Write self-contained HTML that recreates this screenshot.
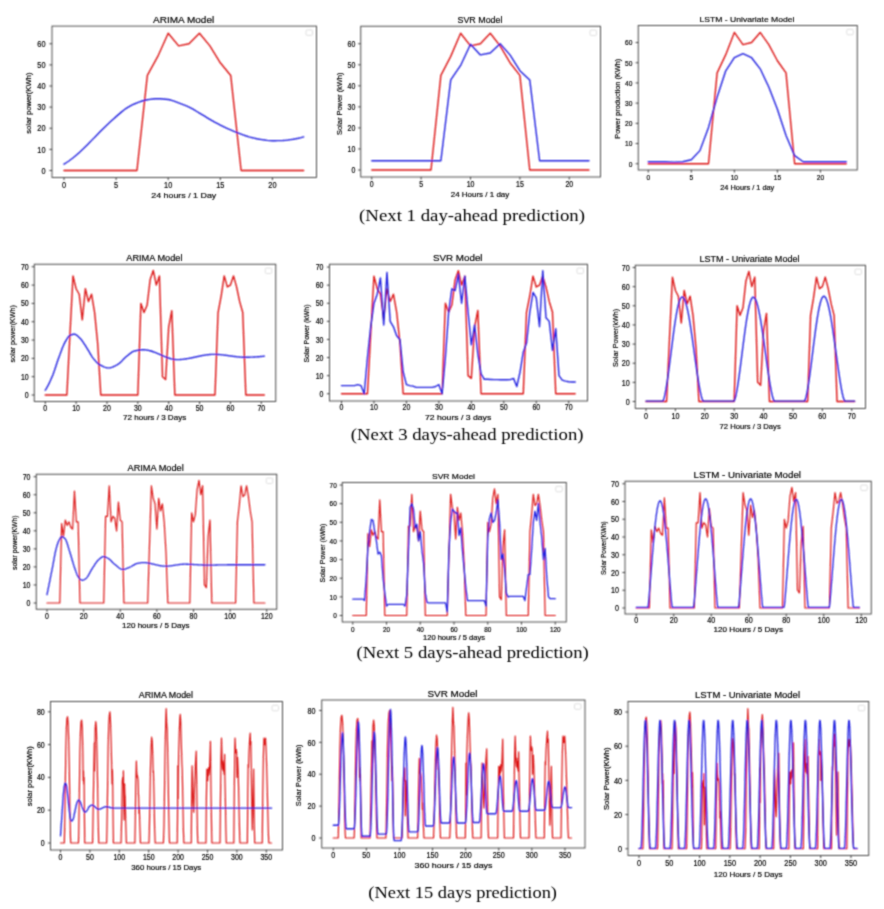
<!DOCTYPE html>
<html><head><meta charset="utf-8"><style>
html,body{margin:0;padding:0;background:#fff;width:884px;height:909px;overflow:hidden}
svg{display:block}
text{font-family:"Liberation Sans",sans-serif;fill:#000000;stroke:#000000;stroke-width:0.18px}
.cap{font-family:"Liberation Serif",serif;fill:#000;stroke:none}
</style></head><body>
<svg width="884" height="909" viewBox="0 0 884 909">
<defs><filter id="b" filterUnits="userSpaceOnUse" x="0" y="0" width="884" height="909"><feConvolveMatrix order="3" kernelMatrix="1 2 1 2 4 2 1 2 1" divisor="16" edgeMode="none"/></filter><filter id="bt" filterUnits="userSpaceOnUse" x="0" y="0" width="884" height="909"><feConvolveMatrix order="3" kernelMatrix="1 3 1 3 12 3 1 3 1" edgeMode="none"/></filter></defs>
<rect width="884" height="909" fill="#fff"/>
<g filter="url(#b)">
<g><polyline points="64,170.5 74.42,170.5 84.84,170.5 95.26,170.5 105.68,170.5 116.1,170.5 126.52,170.5 136.94,170.5 147.36,75.44 157.78,56.43 168.2,33.19 178.62,45.86 189.04,43.75 199.46,33.19 209.88,45.86 220.3,62.76 230.72,75.44 241.14,170.5 251.56,170.5 261.98,170.5 272.4,170.5 282.82,170.5 293.24,170.5 303.66,170.5" fill="none" stroke="#dc1616" stroke-width="1.4" stroke-linejoin="round" stroke-linecap="round"/>
<polyline points="64,164.16 66.61,162.51 69.21,160.71 71.81,158.8 74.42,156.77 77.03,154.58 79.63,152.23 82.23,149.77 84.84,147.26 87.44,144.7 90.05,142.05 92.66,139.37 95.26,136.7 97.87,134.03 100.47,131.35 103.08,128.7 105.68,126.14 108.28,123.66 110.89,121.25 113.5,118.91 116.1,116.63 118.7,114.36 121.31,112.1 123.91,110 126.52,108.18 129.12,106.63 131.73,105.22 134.33,103.98 136.94,102.9 139.55,101.92 142.15,101.02 144.75,100.26 147.36,99.73 149.97,99.34 152.57,99.01 155.18,98.77 157.78,98.68 160.38,98.74 162.99,98.93 165.59,99.2 168.2,99.52 170.81,100.06 173.41,100.91 176.01,101.91 178.62,102.9 181.22,103.86 183.83,104.87 186.44,105.95 189.04,107.12 191.64,108.46 194.25,109.93 196.85,111.49 199.46,113.04 202.06,114.61 204.67,116.22 207.28,117.83 209.88,119.38 212.48,120.87 215.09,122.32 217.69,123.73 220.3,125.08 222.91,126.37 225.51,127.6 228.12,128.79 230.72,129.94 233.32,131.06 235.93,132.15 238.53,133.19 241.14,134.17 243.75,135.1 246.35,136 248.96,136.83 251.56,137.55 254.16,138.17 256.77,138.75 259.38,139.25 261.98,139.66 264.59,140.02 267.19,140.36 269.79,140.61 272.4,140.71 275,140.7 277.61,140.65 280.22,140.59 282.82,140.5 285.43,140.33 288.03,140.03 290.63,139.65 293.24,139.24 295.85,138.77 298.45,138.22 301.06,137.6 303.66,136.91" fill="none" stroke="#2020e0" stroke-width="1.4" stroke-linejoin="round" stroke-linecap="round"/>
<rect x="52" y="26.1" width="264.5" height="151.4" fill="none" stroke="#3c3c3c" stroke-width="0.9"/>
<rect x="306" y="29.9" width="6.5" height="5.5" rx="1.2" fill="none" stroke="#d8d8d8" stroke-width="0.8"/>
<path d="M64 177.5v2.6 M116.1 177.5v2.6 M168.2 177.5v2.6 M220.3 177.5v2.6 M272.4 177.5v2.6 M52 170.5h-2.6 M52 149.38h-2.6 M52 128.25h-2.6 M52 107.12h-2.6 M52 86h-2.6 M52 64.88h-2.6 M52 43.75h-2.6" stroke="#3c3c3c" stroke-width="1"/></g>
<g><polyline points="371.75,170 381.62,170 391.5,170 401.38,170 411.25,170 421.12,170 431,170 440.88,75.32 450.75,56.38 460.62,33.24 470.5,45.86 480.38,43.76 490.25,33.24 500.12,45.86 510,62.7 519.88,75.32 529.75,170 539.62,170 549.5,170 559.38,170 569.25,170 579.12,170 589,170" fill="none" stroke="#dc1616" stroke-width="1.4" stroke-linejoin="round" stroke-linecap="round"/>
<polyline points="371.75,160.74 381.62,160.74 391.5,160.74 401.38,160.74 411.25,160.74 421.12,160.74 431,160.74 440.88,160.74 450.75,79.95 460.62,65.43 470.5,44.18 480.38,54.91 490.25,53.02 500.12,43.76 510,54.91 519.88,70.69 529.75,79.95 539.62,160.74 549.5,160.74 559.38,160.74 569.25,160.74 579.12,160.74 589,160.74" fill="none" stroke="#2020e0" stroke-width="1.4" stroke-linejoin="round" stroke-linecap="round"/>
<rect x="360.75" y="26.25" width="239.75" height="150.75" fill="none" stroke="#3c3c3c" stroke-width="0.9"/>
<rect x="590" y="30.05" width="6.5" height="5.5" rx="1.2" fill="none" stroke="#d8d8d8" stroke-width="0.8"/>
<path d="M371.75 177v2.6 M421.12 177v2.6 M470.5 177v2.6 M519.88 177v2.6 M569.25 177v2.6 M360.75 170h-2.6 M360.75 148.96h-2.6 M360.75 127.92h-2.6 M360.75 106.88h-2.6 M360.75 85.84h-2.6 M360.75 64.8h-2.6 M360.75 43.76h-2.6" stroke="#3c3c3c" stroke-width="1"/></g>
<g><polyline points="648.25,163.75 656.86,163.75 665.47,163.75 674.08,163.75 682.69,163.75 691.3,163.75 699.91,163.75 708.52,163.75 717.13,72.85 725.74,54.67 734.35,32.45 742.96,44.57 751.57,42.55 760.18,32.45 768.79,44.57 777.4,60.73 786.01,72.85 794.62,163.75 803.23,163.75 811.84,163.75 820.45,163.75 829.06,163.75 837.67,163.75 846.28,163.75" fill="none" stroke="#dc1616" stroke-width="1.4" stroke-linejoin="round" stroke-linecap="round"/>
<polyline points="648.25,161.73 656.86,161.73 665.47,161.73 674.08,162.13 682.69,161.73 691.3,159.71 699.91,150.62 708.52,127.39 717.13,97.09 725.74,70.83 734.35,57.7 742.96,53.66 751.57,57.7 760.18,68.81 768.79,86.99 777.4,109.21 786.01,135.47 794.62,155.67 803.23,161.73 811.84,161.73 820.45,161.73 829.06,161.73 837.67,161.73 846.28,161.73" fill="none" stroke="#2020e0" stroke-width="1.4" stroke-linejoin="round" stroke-linecap="round"/>
<rect x="638.25" y="25.5" width="219" height="144.5" fill="none" stroke="#3c3c3c" stroke-width="0.9"/>
<rect x="846.75" y="29.3" width="6.5" height="5.5" rx="1.2" fill="none" stroke="#d8d8d8" stroke-width="0.8"/>
<path d="M648.25 170v2.6 M691.3 170v2.6 M734.35 170v2.6 M777.4 170v2.6 M820.45 170v2.6 M638.25 163.75h-2.6 M638.25 143.55h-2.6 M638.25 123.35h-2.6 M638.25 103.15h-2.6 M638.25 82.95h-2.6 M638.25 62.75h-2.6 M638.25 42.55h-2.6" stroke="#3c3c3c" stroke-width="1"/></g>
<g><polyline points="45.25,395 48.34,395 51.42,395 54.51,395 57.59,395 60.68,395 63.77,395 66.85,395 69.94,334.54 73.02,275.92 76.11,288.74 79.2,294.24 82.28,319.89 85.37,288.74 88.45,301.57 91.54,294.24 94.63,312.56 97.71,343.7 100.8,395 103.88,395 106.97,395 110.06,395 113.14,395 116.23,395 119.31,395 122.4,395 125.49,395 128.57,395 131.66,395 134.74,395 137.83,395 140.92,303.4 144,312.56 147.09,305.23 150.17,279.58 153.26,270.42 156.35,285.08 159.43,275.92 162.52,376.68 165.6,379.43 168.69,327.22 171.78,310.73 174.86,395 177.95,395 181.03,395 184.12,395 187.21,395 190.29,395 193.38,395 196.46,395 199.55,395 202.64,395 205.72,395 208.81,395 211.89,395 214.98,395 218.07,312.56 221.15,296.07 224.24,275.92 227.32,286.91 230.41,285.08 233.5,275.92 236.58,286.91 239.67,301.57 242.75,312.56 245.84,395 248.93,395 252.01,395 255.1,395 258.18,395 261.27,395 264.36,395" fill="none" stroke="#dc1616" stroke-width="1.4" stroke-linejoin="round" stroke-linecap="round"/>
<polyline points="45.25,390.24 46.02,389.03 46.79,387.72 47.56,386.34 48.34,384.87 49.11,383.33 49.88,381.72 50.65,380.04 51.42,378.31 52.19,376.53 52.97,374.66 53.74,372.59 54.51,370.38 55.28,368.06 56.05,365.7 56.82,363.34 57.59,361.03 58.37,358.83 59.14,356.74 59.91,354.63 60.68,352.5 61.45,350.4 62.22,348.37 62.99,346.45 63.77,344.68 64.54,343.1 65.31,341.71 66.08,340.35 66.85,339.04 67.62,337.84 68.39,336.8 69.17,335.99 69.94,335.46 70.71,335.1 71.48,334.78 72.25,334.51 73.02,334.31 73.8,334.2 74.57,334.2 75.34,334.4 76.11,334.8 76.88,335.34 77.65,335.99 78.42,336.71 79.2,337.44 79.97,338.17 80.74,338.98 81.51,339.92 82.28,340.96 83.05,342.08 83.82,343.26 84.6,344.49 85.37,345.73 86.14,346.97 86.91,348.18 87.68,349.37 88.45,350.64 89.23,351.96 90,353.3 90.77,354.63 91.54,355.9 92.31,357.09 93.08,358.16 93.85,359.1 94.63,360.01 95.4,360.89 96.17,361.72 96.94,362.5 97.71,363.22 98.48,363.86 99.25,364.41 100.03,364.85 100.8,365.27 101.57,365.67 102.34,366.06 103.11,366.44 103.88,366.78 104.66,367.09 105.43,367.36 106.2,367.58 106.97,367.75 107.74,367.85 108.51,367.89 109.28,367.85 110.06,367.74 110.83,367.57 111.6,367.34 112.37,367.06 113.14,366.75 113.91,366.4 114.69,366.03 115.46,365.64 116.23,365.25 117,364.85 117.77,364.42 118.54,363.91 119.31,363.3 120.09,362.63 120.86,361.91 121.63,361.15 122.4,360.37 123.17,359.57 123.94,358.79 124.71,358.02 125.49,357.28 126.26,356.6 127.03,355.98 127.8,355.38 128.57,354.75 129.34,354.12 130.12,353.5 130.89,352.91 131.66,352.36 132.43,351.88 133.2,351.47 133.97,351.16 134.74,350.96 135.52,350.78 136.29,350.61 137.06,350.45 137.83,350.3 138.6,350.17 139.37,350.05 140.14,349.95 140.92,349.87 141.69,349.81 142.46,349.77 143.23,349.75 144,349.76 144.77,349.8 145.55,349.86 146.32,349.96 147.09,350.08 147.86,350.22 148.63,350.39 149.4,350.57 150.17,350.78 150.95,351 151.72,351.25 152.49,351.5 153.26,351.77 154.03,352.06 154.8,352.35 155.57,352.66 156.35,352.97 157.12,353.3 157.89,353.62 158.66,353.96 159.43,354.29 160.2,354.63 160.97,354.97 161.75,355.3 162.52,355.64 163.29,355.96 164.06,356.29 164.83,356.61 165.6,356.92 166.38,357.22 167.15,357.51 167.92,357.78 168.69,358.05 169.46,358.29 170.23,358.53 171,358.74 171.78,358.93 172.55,359.11 173.32,359.26 174.09,359.39 174.86,359.49 175.63,359.57 176.41,359.62 177.18,359.64 177.95,359.64 178.72,359.62 179.49,359.59 180.26,359.54 181.03,359.49 181.81,359.42 182.58,359.34 183.35,359.26 184.12,359.16 184.89,359.05 185.66,358.94 186.43,358.81 187.21,358.68 187.98,358.55 188.75,358.4 189.52,358.25 190.29,358.1 191.06,357.95 191.83,357.79 192.61,357.62 193.38,357.46 194.15,357.29 194.92,357.12 195.69,356.95 196.46,356.78 197.24,356.62 198.01,356.45 198.78,356.28 199.55,356.12 200.32,355.96 201.09,355.81 201.86,355.66 202.64,355.51 203.41,355.37 204.18,355.24 204.95,355.11 205.72,354.99 206.49,354.88 207.26,354.77 208.04,354.68 208.81,354.6 209.58,354.52 210.35,354.46 211.12,354.41 211.89,354.37 212.67,354.34 213.44,354.33 214.21,354.33 214.98,354.34 215.75,354.36 216.52,354.4 217.29,354.43 218.07,354.48 218.84,354.54 219.61,354.6 220.38,354.67 221.15,354.75 221.92,354.83 222.69,354.92 223.47,355.01 224.24,355.1 225.01,355.2 225.78,355.3 226.55,355.41 227.32,355.51 228.1,355.62 228.87,355.73 229.64,355.84 230.41,355.95 231.18,356.06 231.95,356.16 232.72,356.27 233.5,356.37 234.27,356.47 235.04,356.56 235.81,356.66 236.58,356.74 237.35,356.83 238.12,356.9 238.9,356.98 239.67,357.04 240.44,357.1 241.21,357.15 241.98,357.19 242.75,357.22 243.53,357.24 244.3,357.26 245.07,357.26 245.84,357.26 246.61,357.25 247.38,357.24 248.15,357.23 248.93,357.21 249.7,357.2 250.47,357.17 251.24,357.15 252.01,357.12 252.78,357.08 253.55,357.05 254.33,357.01 255.1,356.96 255.87,356.92 256.64,356.86 257.41,356.81 258.18,356.75 258.96,356.69 259.73,356.63 260.5,356.56 261.27,356.49 262.04,356.41 262.81,356.33 263.58,356.25 264.36,356.16" fill="none" stroke="#2020e0" stroke-width="1.4" stroke-linejoin="round" stroke-linecap="round"/>
<rect x="34.25" y="264.25" width="241.5" height="137.25" fill="none" stroke="#3c3c3c" stroke-width="0.9"/>
<rect x="265.25" y="268.05" width="6.5" height="5.5" rx="1.2" fill="none" stroke="#d8d8d8" stroke-width="0.8"/>
<path d="M45.25 401.5v2.6 M76.11 401.5v2.6 M106.97 401.5v2.6 M137.83 401.5v2.6 M168.69 401.5v2.6 M199.55 401.5v2.6 M230.41 401.5v2.6 M261.27 401.5v2.6 M34.25 395h-2.6 M34.25 376.68h-2.6 M34.25 358.36h-2.6 M34.25 340.04h-2.6 M34.25 321.72h-2.6 M34.25 303.4h-2.6 M34.25 285.08h-2.6 M34.25 266.76h-2.6" stroke="#3c3c3c" stroke-width="1"/></g>
<g><polyline points="341.5,393.75 344.75,393.75 347.99,393.75 351.24,393.75 354.48,393.75 357.73,393.75 360.98,393.75 364.22,393.75 367.47,393.75 370.71,334.02 373.96,276.1 377.21,288.77 380.45,294.2 383.7,319.54 386.94,288.77 390.19,301.44 393.44,294.2 396.68,312.3 399.93,343.07 403.17,393.75 406.42,393.75 409.67,393.75 412.91,393.75 416.16,393.75 419.4,393.75 422.65,393.75 425.9,393.75 429.14,393.75 432.39,393.75 435.63,393.75 438.88,393.75 442.13,393.75 445.37,303.25 448.62,312.3 451.86,305.06 455.11,279.72 458.36,270.67 461.6,285.15 464.85,276.1 468.09,375.65 471.34,378.37 474.59,326.78 477.83,310.49 481.08,393.75 484.32,393.75 487.57,393.75 490.82,393.75 494.06,393.75 497.31,393.75 500.55,393.75 503.8,393.75 507.05,393.75 510.29,393.75 513.54,393.75 516.78,393.75 520.03,393.75 523.28,393.75 526.52,312.3 529.77,296.01 533.01,276.1 536.26,286.96 539.51,285.15 542.75,276.1 546,286.96 549.24,301.44 552.49,312.3 555.74,393.75 558.98,393.75 562.23,393.75 565.47,393.75 568.72,393.75 571.97,393.75 575.21,393.75" fill="none" stroke="#dc1616" stroke-width="1.4" stroke-linejoin="round" stroke-linecap="round"/>
<polyline points="341.5,385.61 344.75,385.61 347.99,385.61 351.24,385.61 354.48,385.61 357.73,384.7 360.98,385.61 364.22,393.75 367.47,357.55 370.71,326.78 373.96,303.25 377.21,294.2 380.45,277.91 383.7,324.97 386.94,272.48 390.19,321.35 393.44,326.78 396.68,335.83 399.93,339.45 403.17,372.03 406.42,384.7 409.67,385.61 412.91,386.15 416.16,387.42 419.4,387.42 422.65,387.42 425.9,387.42 429.14,387.42 432.39,387.42 435.63,386.51 438.88,384.7 442.13,393.75 445.37,357.55 448.62,312.3 451.86,288.77 455.11,290.58 458.36,274.29 461.6,303.25 464.85,276.1 468.09,312.3 471.34,344.88 474.59,324.97 477.83,353.93 481.08,373.84 484.32,379.27 487.57,379.27 490.82,379.45 494.06,379.63 497.31,379.63 500.55,379.81 503.8,379.81 507.05,379.81 510.29,379.63 513.54,378.37 516.78,386.51 520.03,372.03 523.28,352.12 526.52,343.07 529.77,312.3 533.01,292.39 536.26,297.82 539.51,326.78 542.75,270.67 546,317.73 549.24,321.35 552.49,350.31 555.74,328.59 558.98,375.65 562.23,380.18 565.47,381.08 568.72,381.8 571.97,381.99 575.21,381.99" fill="none" stroke="#2020e0" stroke-width="1.4" stroke-linejoin="round" stroke-linecap="round"/>
<rect x="329.5" y="264.25" width="258" height="136.75" fill="none" stroke="#3c3c3c" stroke-width="0.9"/>
<rect x="577" y="268.05" width="6.5" height="5.5" rx="1.2" fill="none" stroke="#d8d8d8" stroke-width="0.8"/>
<path d="M341.5 401v2.6 M373.96 401v2.6 M406.42 401v2.6 M438.88 401v2.6 M471.34 401v2.6 M503.8 401v2.6 M536.26 401v2.6 M568.72 401v2.6 M329.5 393.75h-2.6 M329.5 375.65h-2.6 M329.5 357.55h-2.6 M329.5 339.45h-2.6 M329.5 321.35h-2.6 M329.5 303.25h-2.6 M329.5 285.15h-2.6 M329.5 267.05h-2.6" stroke="#3c3c3c" stroke-width="1"/></g>
<g><polyline points="646,401.5 648.94,401.5 651.88,401.5 654.82,401.5 657.76,401.5 660.7,401.5 663.63,401.5 666.57,401.5 669.51,338.34 672.45,277.09 675.39,290.49 678.33,296.23 681.27,323.03 684.21,290.49 687.15,303.89 690.09,296.23 693.02,315.37 695.96,347.91 698.9,401.5 701.84,401.5 704.78,401.5 707.72,401.5 710.66,401.5 713.6,401.5 716.54,401.5 719.48,401.5 722.41,401.5 725.35,401.5 728.29,401.5 731.23,401.5 734.17,401.5 737.11,305.8 740.05,315.37 742.99,307.71 745.93,280.92 748.87,271.35 751.8,286.66 754.74,277.09 757.68,382.36 760.62,385.23 763.56,330.68 766.5,313.46 769.44,401.5 772.38,401.5 775.32,401.5 778.25,401.5 781.19,401.5 784.13,401.5 787.07,401.5 790.01,401.5 792.95,401.5 795.89,401.5 798.83,401.5 801.77,401.5 804.71,401.5 807.64,401.5 810.58,315.37 813.52,298.14 816.46,277.09 819.4,288.57 822.34,286.66 825.28,277.09 828.22,288.57 831.16,303.89 834.1,315.37 837.03,401.5 839.97,401.5 842.91,401.5 845.85,401.5 848.79,401.5 851.73,401.5 854.67,401.5" fill="none" stroke="#dc1616" stroke-width="1.4" stroke-linejoin="round" stroke-linecap="round"/>
<polyline points="646,401.12 646.73,401.12 647.47,401.12 648.2,401.12 648.94,401.12 649.67,401.12 650.41,401.12 651.14,401.12 651.88,401.12 652.61,401.12 653.35,401.12 654.08,401.12 654.82,401.12 655.55,401.12 656.29,401.12 657.02,401.12 657.76,401.12 658.49,401.12 659.23,401.12 659.96,401.12 660.7,401.12 661.43,401.12 662.16,401.12 662.9,401.03 663.63,399.59 664.37,397.11 665.1,393.86 665.84,389.98 666.57,385.58 667.31,380.76 668.04,375.58 668.78,370.14 669.51,364.49 670.25,358.72 670.98,352.89 671.72,347.07 672.45,341.32 673.19,335.7 673.92,330.28 674.66,325.11 675.39,320.25 676.12,315.74 676.86,311.64 677.59,307.97 678.33,304.79 679.06,302.12 679.8,299.99 680.53,298.42 681.27,297.42 682,297.01 682.74,297.15 683.47,297.8 684.21,298.93 684.94,300.54 685.68,302.61 686.41,305.14 687.15,308.09 687.88,311.44 688.62,315.17 689.35,319.24 690.09,323.62 690.82,328.27 691.55,333.14 692.29,338.21 693.02,343.41 693.76,348.71 694.49,354.06 695.23,359.4 695.96,364.68 696.7,369.86 697.43,374.87 698.17,379.66 698.9,384.18 699.64,388.35 700.37,392.12 701.11,395.41 701.84,398.12 702.58,400.13 703.31,401.12 704.05,401.12 704.78,401.12 705.51,401.12 706.25,401.12 706.98,401.12 707.72,401.12 708.45,401.12 709.19,401.12 709.92,401.12 710.66,401.12 711.39,401.12 712.13,401.12 712.86,401.12 713.6,401.12 714.33,401.12 715.07,401.12 715.8,401.12 716.54,401.12 717.27,401.12 718.01,401.12 718.74,401.12 719.48,401.12 720.21,401.12 720.94,401.12 721.68,401.12 722.41,401.12 723.15,401.12 723.88,401.12 724.62,401.12 725.35,401.12 726.09,401.12 726.82,401.12 727.56,401.12 728.29,401.12 729.03,401.12 729.76,401.12 730.5,401.12 731.23,401.12 731.97,401.12 732.7,401.12 733.44,401.12 734.17,400.85 734.9,399.17 735.64,396.53 736.37,393.14 737.11,389.16 737.84,384.68 738.58,379.79 739.31,374.56 740.05,369.08 740.78,363.42 741.52,357.64 742.25,351.81 742.99,346.01 743.72,340.29 744.46,334.72 745.19,329.36 745.93,324.25 746.66,319.47 747.4,315.05 748.13,311.03 748.87,307.47 749.6,304.39 750.33,301.83 751.07,299.82 751.8,298.36 752.54,297.48 753.27,297.19 754.01,297.43 754.74,298.17 755.48,299.4 756.21,301.1 756.95,303.26 757.68,305.87 758.42,308.9 759.15,312.32 759.89,316.12 760.62,320.24 761.36,324.67 762.09,329.36 762.83,334.26 763.56,339.35 764.29,344.57 765.03,349.87 765.76,355.21 766.5,360.54 767.23,365.79 767.97,370.93 768.7,375.9 769.44,380.63 770.17,385.07 770.91,389.16 771.64,392.83 772.38,396.01 773.11,398.59 773.85,400.43 774.58,401.12 775.32,401.12 776.05,401.12 776.79,401.12 777.52,401.12 778.25,401.12 778.99,401.12 779.72,401.12 780.46,401.12 781.19,401.12 781.93,401.12 782.66,401.12 783.4,401.12 784.13,401.12 784.87,401.12 785.6,401.12 786.34,401.12 787.07,401.12 787.81,401.12 788.54,401.12 789.28,401.12 790.01,401.12 790.75,401.12 791.48,401.12 792.22,401.12 792.95,401.12 793.68,401.12 794.42,401.12 795.15,401.12 795.89,401.12 796.62,401.12 797.36,401.12 798.09,401.12 798.83,401.12 799.56,401.12 800.3,401.12 801.03,401.12 801.77,401.12 802.5,401.12 803.24,401.12 803.97,401.12 804.71,400.85 805.44,399.15 806.18,396.48 806.91,393.07 807.64,389.05 808.38,384.53 809.11,379.59 809.85,374.32 810.58,368.79 811.32,363.07 812.05,357.24 812.79,351.36 813.52,345.5 814.26,339.73 814.99,334.11 815.73,328.7 816.46,323.55 817.2,318.72 817.93,314.25 818.67,310.2 819.4,306.61 820.14,303.5 820.87,300.92 821.61,298.88 822.34,297.41 823.07,296.53 823.81,296.23 824.54,296.48 825.28,297.23 826.01,298.46 826.75,300.18 827.48,302.36 828.22,304.99 828.95,308.05 829.69,311.51 830.42,315.33 831.16,319.5 831.89,323.96 832.63,328.7 833.36,333.65 834.1,338.78 834.83,344.05 835.57,349.4 836.3,354.79 837.03,360.16 837.77,365.47 838.5,370.65 839.24,375.66 839.97,380.44 840.71,384.92 841.44,389.05 842.18,392.76 842.91,395.96 843.65,398.57 844.38,400.42 845.12,401.12 845.85,401.12 846.59,401.12 847.32,401.12 848.06,401.12 848.79,401.12 849.53,401.12 850.26,401.12 851,401.12 851.73,401.12 852.46,401.12 853.2,401.12 853.93,401.12 854.67,401.12" fill="none" stroke="#2020e0" stroke-width="1.4" stroke-linejoin="round" stroke-linecap="round"/>
<rect x="635.25" y="265.25" width="230.25" height="143.25" fill="none" stroke="#3c3c3c" stroke-width="0.9"/>
<rect x="855" y="269.05" width="6.5" height="5.5" rx="1.2" fill="none" stroke="#d8d8d8" stroke-width="0.8"/>
<path d="M646 408.5v2.6 M675.39 408.5v2.6 M704.78 408.5v2.6 M734.17 408.5v2.6 M763.56 408.5v2.6 M792.95 408.5v2.6 M822.34 408.5v2.6 M851.73 408.5v2.6 M635.25 401.5h-2.6 M635.25 382.36h-2.6 M635.25 363.22h-2.6 M635.25 344.08h-2.6 M635.25 324.94h-2.6 M635.25 305.8h-2.6 M635.25 286.66h-2.6 M635.25 267.52h-2.6" stroke="#3c3c3c" stroke-width="1"/></g>
<g><polyline points="47,603 48.83,603 50.66,603 52.49,603 54.32,603 56.16,603 57.99,603 59.82,603 61.65,523.62 63.48,536.25 65.31,520.02 67.14,525.43 68.97,521.82 70.8,527.23 72.63,529.04 74.47,491.15 76.3,521.82 78.13,521.82 79.96,603 81.79,603 83.62,603 85.45,603 87.28,603 89.11,603 90.94,603 92.78,603 94.61,603 96.44,603 98.27,603 100.1,603 101.93,603 103.76,603 105.59,516.41 107.42,516.41 109.25,485.74 111.08,521.82 112.92,516.41 114.75,518.21 116.58,530.84 118.41,501.98 120.24,520.02 122.07,521.82 123.9,603 125.73,603 127.56,603 129.39,603 131.23,603 133.06,603 134.89,603 136.72,603 138.55,603 140.38,603 142.21,603 144.04,603 145.87,603 147.7,603 149.54,543.47 151.37,485.74 153.2,498.37 155.03,503.78 156.86,529.04 158.69,498.37 160.52,511 162.35,503.78 164.18,521.82 166.01,552.49 167.85,603 169.68,603 171.51,603 173.34,603 175.17,603 177,603 178.83,603 180.66,603 182.49,603 184.32,603 186.16,603 187.99,603 189.82,603 191.65,512.8 193.48,521.82 195.31,514.6 197.14,489.35 198.97,480.33 200.8,494.76 202.63,485.74 204.47,584.96 206.3,587.67 208.13,536.25 209.96,520.02 211.79,603 213.62,603 215.45,603 217.28,603 219.11,603 220.94,603 222.78,603 224.61,603 226.44,603 228.27,603 230.1,603 231.93,603 233.76,603 235.59,603 237.42,521.82 239.25,505.58 241.09,485.74 242.92,496.56 244.75,494.76 246.58,485.74 248.41,496.56 250.24,511 252.07,521.82 253.9,603 255.73,603 257.56,603 259.4,603 261.23,603 263.06,603 264.89,603" fill="none" stroke="#dc1616" stroke-width="1.2" stroke-linejoin="round" stroke-linecap="round"/>
<polyline points="47,594.7 47.46,592.44 47.92,590.17 48.37,587.9 48.83,585.62 49.29,583.34 49.75,581.05 50.2,578.77 50.66,576.48 51.12,574.18 51.58,571.88 52.04,569.58 52.49,567.28 52.95,564.9 53.41,562.4 53.87,559.86 54.32,557.34 54.78,554.9 55.24,552.6 55.7,550.51 56.16,548.7 56.61,547.07 57.07,545.52 57.53,544.07 57.99,542.74 58.44,541.55 58.9,540.53 59.36,539.71 59.82,538.93 60.27,538.2 60.73,537.55 61.19,537.07 61.65,536.82 62.11,536.81 62.56,536.93 63.02,537.13 63.48,537.4 63.94,537.73 64.39,538.11 64.85,538.51 65.31,539.02 65.77,539.79 66.23,540.79 66.68,541.97 67.14,543.3 67.6,544.75 68.06,546.27 68.51,547.82 68.97,549.37 69.43,550.88 69.89,552.31 70.35,553.73 70.8,555.22 71.26,556.77 71.72,558.36 72.18,559.96 72.63,561.55 73.09,563.13 73.55,564.66 74.01,566.12 74.47,567.51 74.92,568.79 75.38,570.07 75.84,571.35 76.3,572.61 76.75,573.81 77.21,574.91 77.67,575.88 78.13,576.69 78.58,577.31 79.04,577.86 79.5,578.38 79.96,578.87 80.42,579.31 80.87,579.69 81.33,579.98 81.79,580.18 82.25,580.27 82.7,580.24 83.16,580.14 83.62,579.97 84.08,579.75 84.54,579.48 84.99,579.18 85.45,578.86 85.91,578.53 86.37,578.16 86.82,577.68 87.28,577.11 87.74,576.44 88.2,575.71 88.66,574.93 89.11,574.1 89.57,573.25 90.03,572.38 90.49,571.52 90.94,570.68 91.4,569.87 91.86,569.11 92.32,568.41 92.78,567.71 93.23,567.01 93.69,566.29 94.15,565.57 94.61,564.86 95.06,564.16 95.52,563.47 95.98,562.81 96.44,562.17 96.89,561.57 97.35,561.02 97.81,560.51 98.27,560.05 98.73,559.64 99.18,559.22 99.64,558.81 100.1,558.4 100.56,558.01 101.01,557.65 101.47,557.33 101.93,557.05 102.39,556.84 102.85,556.7 103.3,556.64 103.76,556.65 104.22,556.71 104.68,556.82 105.13,556.96 105.59,557.13 106.05,557.32 106.51,557.54 106.97,557.78 107.42,558.02 107.88,558.27 108.34,558.52 108.8,558.78 109.25,559.09 109.71,559.46 110.17,559.86 110.63,560.3 111.08,560.77 111.54,561.25 112,561.74 112.46,562.23 112.92,562.71 113.37,563.17 113.83,563.6 114.29,564 114.75,564.35 115.2,564.72 115.66,565.1 116.12,565.48 116.58,565.87 117.04,566.27 117.49,566.65 117.95,567.03 118.41,567.4 118.87,567.75 119.32,568.08 119.78,568.38 120.24,568.66 120.7,568.9 121.16,569.1 121.61,569.26 122.07,569.37 122.53,569.44 122.99,569.44 123.44,569.41 123.9,569.35 124.36,569.26 124.82,569.15 125.28,569.01 125.73,568.86 126.19,568.69 126.65,568.51 127.11,568.32 127.56,568.13 128.02,567.93 128.48,567.73 128.94,567.54 129.39,567.35 129.85,567.17 130.31,566.96 130.77,566.73 131.23,566.48 131.68,566.22 132.14,565.95 132.6,565.67 133.06,565.4 133.51,565.12 133.97,564.85 134.43,564.59 134.89,564.34 135.35,564.11 135.8,563.91 136.26,563.73 136.72,563.59 137.18,563.47 137.63,563.37 138.09,563.27 138.55,563.18 139.01,563.08 139.47,563 139.92,562.91 140.38,562.84 140.84,562.77 141.3,562.71 141.75,562.67 142.21,562.63 142.67,562.6 143.13,562.59 143.59,562.59 144.04,562.6 144.5,562.62 144.96,562.65 145.42,562.68 145.87,562.72 146.33,562.77 146.79,562.83 147.25,562.89 147.7,562.96 148.16,563.03 148.62,563.11 149.08,563.2 149.54,563.28 149.99,563.38 150.45,563.47 150.91,563.57 151.37,563.67 151.82,563.78 152.28,563.89 152.74,563.99 153.2,564.1 153.66,564.22 154.11,564.33 154.57,564.44 155.03,564.55 155.49,564.66 155.94,564.77 156.4,564.88 156.86,564.99 157.32,565.09 157.78,565.2 158.23,565.3 158.69,565.39 159.15,565.49 159.61,565.57 160.06,565.66 160.52,565.74 160.98,565.81 161.44,565.88 161.9,565.95 162.35,566 162.81,566.06 163.27,566.1 163.73,566.14 164.18,566.16 164.64,566.18 165.1,566.2 165.56,566.2 166.01,566.19 166.47,566.18 166.93,566.16 167.39,566.14 167.85,566.11 168.3,566.08 168.76,566.04 169.22,565.99 169.68,565.95 170.13,565.89 170.59,565.84 171.05,565.78 171.51,565.72 171.97,565.65 172.42,565.59 172.88,565.52 173.34,565.45 173.8,565.38 174.25,565.31 174.71,565.24 175.17,565.16 175.63,565.09 176.09,565.02 176.54,564.95 177,564.88 177.46,564.81 177.92,564.75 178.37,564.68 178.83,564.62 179.29,564.56 179.75,564.51 180.21,564.46 180.66,564.41 181.12,564.37 181.58,564.33 182.04,564.29 182.49,564.27 182.95,564.24 183.41,564.23 183.87,564.22 184.32,564.21 184.78,564.21 185.24,564.22 185.7,564.22 186.16,564.23 186.61,564.24 187.07,564.25 187.53,564.26 187.99,564.27 188.44,564.29 188.9,564.3 189.36,564.32 189.82,564.34 190.28,564.35 190.73,564.37 191.19,564.4 191.65,564.42 192.11,564.44 192.56,564.46 193.02,564.49 193.48,564.51 193.94,564.54 194.4,564.56 194.85,564.59 195.31,564.61 195.77,564.64 196.23,564.66 196.68,564.69 197.14,564.72 197.6,564.74 198.06,564.77 198.52,564.79 198.97,564.82 199.43,564.84 199.89,564.87 200.35,564.89 200.8,564.91 201.26,564.93 201.72,564.96 202.18,564.98 202.63,564.99 203.09,565.01 203.55,565.03 204.01,565.04 204.47,565.06 204.92,565.07 205.38,565.08 205.84,565.09 206.3,565.1 206.75,565.11 207.21,565.11 207.67,565.12 208.13,565.12 208.59,565.12 209.04,565.11 209.5,565.11 209.96,565.11 210.42,565.11 210.87,565.1 211.33,565.1 211.79,565.09 212.25,565.08 212.71,565.08 213.16,565.07 213.62,565.06 214.08,565.05 214.54,565.04 214.99,565.03 215.45,565.02 215.91,565.01 216.37,565 216.83,564.99 217.28,564.98 217.74,564.97 218.2,564.96 218.66,564.95 219.11,564.94 219.57,564.92 220.03,564.91 220.49,564.9 220.94,564.89 221.4,564.88 221.86,564.87 222.32,564.86 222.78,564.85 223.23,564.84 223.69,564.83 224.15,564.82 224.61,564.81 225.06,564.8 225.52,564.8 225.98,564.79 226.44,564.78 226.9,564.78 227.35,564.77 227.81,564.77 228.27,564.76 228.73,564.76 229.18,564.76 229.64,564.76 230.1,564.76 230.56,564.76 231.02,564.76 231.47,564.76 231.93,564.76 232.39,564.76 232.85,564.76 233.3,564.76 233.76,564.76 234.22,564.76 234.68,564.76 235.14,564.76 235.59,564.76 236.05,564.76 236.51,564.76 236.97,564.76 237.42,564.76 237.88,564.76 238.34,564.76 238.8,564.76 239.25,564.76 239.71,564.76 240.17,564.76 240.63,564.76 241.09,564.76 241.54,564.76 242,564.76 242.46,564.76 242.92,564.76 243.37,564.76 243.83,564.76 244.29,564.76 244.75,564.76 245.21,564.76 245.66,564.76 246.12,564.76 246.58,564.76 247.04,564.76 247.49,564.76 247.95,564.76 248.41,564.76 248.87,564.76 249.33,564.76 249.78,564.76 250.24,564.76 250.7,564.76 251.16,564.76 251.61,564.76 252.07,564.76 252.53,564.76 252.99,564.76 253.45,564.76 253.9,564.76 254.36,564.76 254.82,564.76 255.28,564.76 255.73,564.76 256.19,564.76 256.65,564.76 257.11,564.76 257.56,564.76 258.02,564.76 258.48,564.76 258.94,564.76 259.4,564.76 259.85,564.76 260.31,564.76 260.77,564.76 261.23,564.76 261.68,564.76 262.14,564.76 262.6,564.76 263.06,564.76 263.52,564.76 263.97,564.76 264.43,564.76 264.89,564.76" fill="none" stroke="#2020e0" stroke-width="1.3" stroke-linejoin="round" stroke-linecap="round"/>
<rect x="36.25" y="474.25" width="240.5" height="135" fill="none" stroke="#3c3c3c" stroke-width="0.9"/>
<rect x="266.25" y="478.05" width="6.5" height="5.5" rx="1.2" fill="none" stroke="#d8d8d8" stroke-width="0.8"/>
<path d="M47 609.25v2.6 M83.62 609.25v2.6 M120.24 609.25v2.6 M156.86 609.25v2.6 M193.48 609.25v2.6 M230.1 609.25v2.6 M266.72 609.25v2.6 M36.25 603h-2.6 M36.25 584.96h-2.6 M36.25 566.92h-2.6 M36.25 548.88h-2.6 M36.25 530.84h-2.6 M36.25 512.8h-2.6 M36.25 494.76h-2.6 M36.25 476.72h-2.6" stroke="#3c3c3c" stroke-width="1"/></g>
<g><polyline points="352.75,615.5 354.44,615.5 356.12,615.5 357.81,615.5 359.5,615.5 361.19,615.5 362.88,615.5 364.56,615.5 366.25,615.5 367.94,533.48 369.62,546.53 371.31,529.76 373,535.35 374.69,531.62 376.38,537.21 378.06,539.08 379.75,499.93 381.44,531.62 383.12,531.62 384.81,615.5 386.5,615.5 388.19,615.5 389.88,615.5 391.56,615.5 393.25,615.5 394.94,615.5 396.62,615.5 398.31,615.5 400,615.5 401.69,615.5 403.38,615.5 405.06,615.5 406.75,615.5 408.44,526.03 410.12,526.03 411.81,494.34 413.5,531.62 415.19,526.03 416.88,527.89 418.56,540.94 420.25,511.12 421.94,529.76 423.62,531.62 425.31,615.5 427,615.5 428.69,615.5 430.38,615.5 432.06,615.5 433.75,615.5 435.44,615.5 437.12,615.5 438.81,615.5 440.5,615.5 442.19,615.5 443.88,615.5 445.56,615.5 447.25,615.5 448.94,553.99 450.62,494.34 452.31,507.39 454,512.98 455.69,539.08 457.38,507.39 459.06,520.44 460.75,512.98 462.44,531.62 464.12,563.31 465.81,615.5 467.5,615.5 469.19,615.5 470.88,615.5 472.56,615.5 474.25,615.5 475.94,615.5 477.62,615.5 479.31,615.5 481,615.5 482.69,615.5 484.38,615.5 486.06,615.5 487.75,522.3 489.44,531.62 491.12,524.16 492.81,498.07 494.5,488.75 496.19,503.66 497.88,494.34 499.56,596.86 501.25,599.66 502.94,546.53 504.62,529.76 506.31,615.5 508,615.5 509.69,615.5 511.38,615.5 513.06,615.5 514.75,615.5 516.44,615.5 518.12,615.5 519.81,615.5 521.5,615.5 523.19,615.5 524.88,615.5 526.56,615.5 528.25,615.5 529.94,531.62 531.62,514.84 533.31,494.34 535,505.52 536.69,503.66 538.38,494.34 540.06,505.52 541.75,520.44 543.44,531.62 545.12,615.5 546.81,615.5 548.5,615.5 550.19,615.5 551.88,615.5 553.56,615.5 555.25,615.5" fill="none" stroke="#dc1616" stroke-width="1.2" stroke-linejoin="round" stroke-linecap="round"/>
<polyline points="352.75,599.1 354.44,599.1 356.12,599.1 357.81,599.1 359.5,599.1 361.19,599.1 362.88,599.1 364.56,600.59 366.25,578.22 367.94,546.53 369.62,531.62 371.31,519.5 373,520.44 374.69,531.62 376.38,540.94 378.06,553.99 379.75,552.12 381.44,555.85 383.12,578.22 384.81,593.13 386.5,606.18 388.19,604.32 389.88,604.32 391.56,604.32 393.25,604.32 394.94,604.32 396.62,604.32 398.31,604.32 400,604.32 401.69,604.32 403.38,604.32 405.06,606.18 406.75,595 408.44,550.26 410.12,507.39 411.81,503.66 413.5,509.25 415.19,527.89 416.88,524.16 418.56,540.94 420.25,531.62 421.94,550.26 423.62,563.31 425.31,593.13 427,602.45 428.69,602.82 430.38,602.82 432.06,602.82 433.75,602.82 435.44,602.82 437.12,602.82 438.81,602.82 440.5,602.82 442.19,602.82 443.88,602.82 445.56,602.82 447.25,611.77 448.94,550.26 450.62,522.3 452.31,509.25 454,511.12 455.69,512.98 457.38,512.98 459.06,535.35 460.75,527.89 462.44,550.26 464.12,568.9 465.81,587.54 467.5,600.59 469.19,600.59 470.88,600.59 472.56,600.59 474.25,600.59 475.94,600.59 477.62,600.59 479.31,600.59 481,600.59 482.69,600.59 484.38,600.59 486.06,606.18 487.75,537.21 489.44,518.57 491.12,512.98 492.81,522.3 494.5,520.44 496.19,512.98 497.88,499.93 499.56,522.3 501.25,559.58 502.94,553.99 504.62,568.9 506.31,593.13 508,596.86 509.69,596.3 511.38,596.3 513.06,596.3 514.75,596.3 516.44,596.3 518.12,596.3 519.81,596.3 521.5,596.3 523.19,596.3 524.88,600.59 526.56,587.54 528.25,574.49 529.94,574.49 531.62,550.26 533.31,522.3 535,511.12 536.69,520.44 538.38,503.66 540.06,522.3 541.75,537.21 543.44,559.58 545.12,548.4 546.81,578.22 548.5,596.86 550.19,598.72 551.88,598.72 553.56,598.72 555.25,598.72" fill="none" stroke="#2020e0" stroke-width="1.3" stroke-linejoin="round" stroke-linecap="round"/>
<rect x="342.25" y="482.5" width="224" height="139.5" fill="none" stroke="#3c3c3c" stroke-width="0.9"/>
<rect x="555.75" y="486.3" width="6.5" height="5.5" rx="1.2" fill="none" stroke="#d8d8d8" stroke-width="0.8"/>
<path d="M352.75 622v2.6 M386.5 622v2.6 M420.25 622v2.6 M454 622v2.6 M487.75 622v2.6 M521.5 622v2.6 M555.25 622v2.6 M342.25 615.5h-2.6 M342.25 596.86h-2.6 M342.25 578.22h-2.6 M342.25 559.58h-2.6 M342.25 540.94h-2.6 M342.25 522.3h-2.6 M342.25 503.66h-2.6 M342.25 485.02h-2.6" stroke="#3c3c3c" stroke-width="1"/></g>
<g><polyline points="636.25,608 638.12,608 640,608 641.88,608 643.75,608 645.62,608 647.5,608 649.38,608 651.25,529.9 653.12,542.33 655,526.35 656.88,531.67 658.75,528.12 660.62,533.45 662.5,535.23 664.38,497.95 666.25,528.12 668.12,528.12 670,608 671.88,608 673.75,608 675.62,608 677.5,608 679.38,608 681.25,608 683.12,608 685,608 686.88,608 688.75,608 690.62,608 692.5,608 694.38,608 696.25,522.8 698.12,522.8 700,492.62 701.88,528.12 703.75,522.8 705.62,524.58 707.5,537 709.38,508.6 711.25,526.35 713.12,528.12 715,608 716.88,608 718.75,608 720.62,608 722.5,608 724.38,608 726.25,608 728.12,608 730,608 731.88,608 733.75,608 735.62,608 737.5,608 739.38,608 741.25,549.42 743.12,492.62 745,505.05 746.88,510.38 748.75,535.23 750.62,505.05 752.5,517.48 754.38,510.38 756.25,528.12 758.12,558.3 760,608 761.88,608 763.75,608 765.62,608 767.5,608 769.38,608 771.25,608 773.12,608 775,608 776.88,608 778.75,608 780.62,608 782.5,608 784.38,519.25 786.25,528.12 788.12,521.02 790,496.18 791.88,487.3 793.75,501.5 795.62,492.62 797.5,590.25 799.38,592.91 801.25,542.33 803.12,526.35 805,608 806.88,608 808.75,608 810.62,608 812.5,608 814.38,608 816.25,608 818.12,608 820,608 821.88,608 823.75,608 825.62,608 827.5,608 829.38,608 831.25,528.12 833.12,512.15 835,492.62 836.88,503.27 838.75,501.5 840.62,492.62 842.5,503.27 844.38,517.48 846.25,528.12 848.12,608 850,608 851.88,608 853.75,608 855.62,608 857.5,608 859.38,608" fill="none" stroke="#dc1616" stroke-width="1.2" stroke-linejoin="round" stroke-linecap="round"/>
<polyline points="636.25,607.29 636.72,607.29 637.19,607.29 637.66,607.29 638.12,607.29 638.59,607.29 639.06,607.29 639.53,607.29 640,607.29 640.47,607.29 640.94,607.29 641.41,607.29 641.88,607.29 642.34,607.29 642.81,607.29 643.28,607.29 643.75,607.29 644.22,607.29 644.69,607.29 645.16,607.29 645.62,607.29 646.09,607.29 646.56,607.29 647.03,607.29 647.5,607.29 647.97,607.29 648.44,603.97 648.91,598.86 649.38,593.32 649.84,587.54 650.31,581.61 650.78,575.61 651.25,569.6 651.72,563.63 652.19,557.74 652.66,551.97 653.12,546.37 653.59,540.97 654.06,535.8 654.53,530.89 655,526.27 655.47,521.98 655.94,518.02 656.41,514.43 656.88,511.23 657.34,508.43 657.81,506.05 658.28,504.1 658.75,502.59 659.22,501.54 659.69,500.94 660.16,500.8 660.62,501.12 661.09,501.9 661.56,503.14 662.03,504.82 662.5,506.95 662.97,509.5 663.44,512.46 663.91,515.82 664.38,519.56 664.84,523.65 665.31,528.08 665.78,532.82 666.25,537.84 666.72,543.1 667.19,548.59 667.66,554.26 668.12,560.08 668.59,566.01 669.06,572 669.53,578.02 670,583.99 670.47,589.87 670.94,595.57 671.41,600.97 671.88,605.79 672.34,607.29 672.81,607.29 673.28,607.29 673.75,607.29 674.22,607.29 674.69,607.29 675.16,607.29 675.62,607.29 676.09,607.29 676.56,607.29 677.03,607.29 677.5,607.29 677.97,607.29 678.44,607.29 678.91,607.29 679.38,607.29 679.84,607.29 680.31,607.29 680.78,607.29 681.25,607.29 681.72,607.29 682.19,607.29 682.66,607.29 683.12,607.29 683.59,607.29 684.06,607.29 684.53,607.29 685,607.29 685.47,607.29 685.94,607.29 686.41,607.29 686.88,607.29 687.34,607.29 687.81,607.29 688.28,607.29 688.75,607.29 689.22,607.29 689.69,607.29 690.16,607.29 690.62,607.29 691.09,607.29 691.56,607.29 692.03,607.29 692.5,607.29 692.97,607.29 693.44,607.29 693.91,604.86 694.38,599.79 694.84,594.22 695.31,588.37 695.78,582.35 696.25,576.26 696.72,570.13 697.19,564.04 697.66,558.02 698.12,552.12 698.59,546.38 699.06,540.84 699.53,535.52 700,530.47 700.47,525.7 700.94,521.26 701.41,517.16 701.88,513.43 702.34,510.09 702.81,507.15 703.28,504.64 703.75,502.57 704.22,500.94 704.69,499.77 705.16,499.07 705.62,498.84 706.09,499.07 706.56,499.77 707.03,500.94 707.5,502.57 707.97,504.64 708.44,507.15 708.91,510.09 709.38,513.43 709.84,517.16 710.31,521.26 710.78,525.7 711.25,530.47 711.72,535.52 712.19,540.84 712.66,546.38 713.12,552.12 713.59,558.02 714.06,564.04 714.53,570.13 715,576.26 715.47,582.35 715.94,588.37 716.41,594.22 716.88,599.79 717.34,604.86 717.81,607.29 718.28,607.29 718.75,607.29 719.22,607.29 719.69,607.29 720.16,607.29 720.62,607.29 721.09,607.29 721.56,607.29 722.03,607.29 722.5,607.29 722.97,607.29 723.44,607.29 723.91,607.29 724.38,607.29 724.84,607.29 725.31,607.29 725.78,607.29 726.25,607.29 726.72,607.29 727.19,607.29 727.66,607.29 728.12,607.29 728.59,607.29 729.06,607.29 729.53,607.29 730,607.29 730.47,607.29 730.94,607.29 731.41,607.29 731.88,607.29 732.34,607.29 732.81,607.29 733.28,607.29 733.75,607.29 734.22,607.29 734.69,607.29 735.16,607.29 735.62,607.29 736.09,607.29 736.56,607.29 737.03,607.29 737.5,607.29 737.97,607.29 738.44,607.29 738.91,604.86 739.38,599.79 739.84,594.22 740.31,588.37 740.78,582.35 741.25,576.26 741.72,570.13 742.19,564.04 742.66,558.02 743.12,552.12 743.59,546.38 744.06,540.84 744.53,535.52 745,530.47 745.47,525.7 745.94,521.26 746.41,517.16 746.88,513.43 747.34,510.09 747.81,507.15 748.28,504.64 748.75,502.57 749.22,500.94 749.69,499.77 750.16,499.07 750.62,498.84 751.09,499.07 751.56,499.77 752.03,500.94 752.5,502.57 752.97,504.64 753.44,507.15 753.91,510.09 754.38,513.43 754.84,517.16 755.31,521.26 755.78,525.7 756.25,530.47 756.72,535.52 757.19,540.84 757.66,546.38 758.12,552.12 758.59,558.02 759.06,564.04 759.53,570.13 760,576.26 760.47,582.35 760.94,588.37 761.41,594.22 761.88,599.79 762.34,604.86 762.81,607.29 763.28,607.29 763.75,607.29 764.22,607.29 764.69,607.29 765.16,607.29 765.62,607.29 766.09,607.29 766.56,607.29 767.03,607.29 767.5,607.29 767.97,607.29 768.44,607.29 768.91,607.29 769.38,607.29 769.84,607.29 770.31,607.29 770.78,607.29 771.25,607.29 771.72,607.29 772.19,607.29 772.66,607.29 773.12,607.29 773.59,607.29 774.06,607.29 774.53,607.29 775,607.29 775.47,607.29 775.94,607.29 776.41,607.29 776.88,607.29 777.34,607.29 777.81,607.29 778.28,607.29 778.75,607.29 779.22,607.29 779.69,607.29 780.16,607.29 780.62,607.29 781.09,607.29 781.56,607.29 782.03,607.29 782.5,607.29 782.97,607.29 783.44,607.29 783.91,607.29 784.38,605.77 784.84,600.88 785.31,595.42 785.78,589.64 786.25,583.68 786.72,577.62 787.19,571.53 787.66,565.46 788.12,559.45 788.59,553.56 789.06,547.81 789.53,542.25 790,536.91 790.47,531.83 790.94,527.03 791.41,522.54 791.88,518.39 792.34,514.6 792.81,511.2 793.28,508.19 793.75,505.61 794.22,503.46 794.69,501.75 795.16,500.5 795.62,499.71 796.09,499.38 796.56,499.52 797.03,500.13 797.5,501.2 797.97,502.72 798.44,504.7 798.91,507.11 799.38,509.95 799.84,513.19 800.31,516.83 800.78,520.84 801.25,525.19 801.72,529.87 802.19,534.84 802.66,540.08 803.12,545.56 803.59,551.24 804.06,557.08 804.53,563.05 805,569.1 805.47,575.19 805.94,581.27 806.41,587.27 806.88,593.13 807.34,598.75 807.81,603.92 808.28,607.29 808.75,607.29 809.22,607.29 809.69,607.29 810.16,607.29 810.62,607.29 811.09,607.29 811.56,607.29 812.03,607.29 812.5,607.29 812.97,607.29 813.44,607.29 813.91,607.29 814.38,607.29 814.84,607.29 815.31,607.29 815.78,607.29 816.25,607.29 816.72,607.29 817.19,607.29 817.66,607.29 818.12,607.29 818.59,607.29 819.06,607.29 819.53,607.29 820,607.29 820.47,607.29 820.94,607.29 821.41,607.29 821.88,607.29 822.34,607.29 822.81,607.29 823.28,607.29 823.75,607.29 824.22,607.29 824.69,607.29 825.16,607.29 825.62,607.29 826.09,607.29 826.56,607.29 827.03,607.29 827.5,607.29 827.97,607.29 828.44,607.29 828.91,607.29 829.38,607.29 829.84,602.94 830.31,597.65 830.78,591.98 831.25,586.08 831.72,580.06 832.19,573.97 832.66,567.88 833.12,561.84 833.59,555.9 834.06,550.09 834.53,544.45 835,539.02 835.47,533.83 835.94,528.91 836.41,524.3 836.88,520.01 837.34,516.07 837.81,512.51 838.28,509.35 838.75,506.59 839.22,504.27 839.69,502.38 840.16,500.94 840.62,499.97 841.09,499.45 841.56,499.41 842.03,499.83 842.5,500.71 842.97,502.06 843.44,503.85 843.91,506.09 844.38,508.76 844.84,511.85 845.31,515.33 845.78,519.19 846.25,523.41 846.72,527.96 847.19,532.82 847.66,537.96 848.12,543.34 848.59,548.94 849.06,554.72 849.53,560.65 850,566.67 850.47,572.75 850.94,578.84 851.41,584.88 851.88,590.81 852.34,596.54 852.81,601.92 853.28,606.61 853.75,607.29 854.22,607.29 854.69,607.29 855.16,607.29 855.62,607.29 856.09,607.29 856.56,607.29 857.03,607.29 857.5,607.29 857.97,607.29 858.44,607.29 858.91,607.29 859.38,607.29" fill="none" stroke="#2020e0" stroke-width="1.3" stroke-linejoin="round" stroke-linecap="round"/>
<rect x="625" y="481.25" width="246.25" height="132.75" fill="none" stroke="#3c3c3c" stroke-width="0.9"/>
<rect x="860.75" y="485.05" width="6.5" height="5.5" rx="1.2" fill="none" stroke="#d8d8d8" stroke-width="0.8"/>
<path d="M636.25 614v2.6 M673.75 614v2.6 M711.25 614v2.6 M748.75 614v2.6 M786.25 614v2.6 M823.75 614v2.6 M861.25 614v2.6 M625 608h-2.6 M625 590.25h-2.6 M625 572.5h-2.6 M625 554.75h-2.6 M625 537h-2.6 M625 519.25h-2.6 M625 501.5h-2.6 M625 483.75h-2.6" stroke="#3c3c3c" stroke-width="1"/></g>
<g><polyline points="60.5,843 64.32,843 64.62,829.88 65.2,790.52 65.79,751.16 66.38,728.2 66.97,718.36 67.56,716.72 68.14,723.28 68.73,741.32 69.32,770.84 69.91,810.2 70.5,838.08 70.79,843 78.43,843 78.73,834.8 79.32,793.8 79.9,752.8 80.49,731.48 81.08,721.64 81.67,720 82.26,728.2 82.84,752.8 83.2,780.68 83.49,770.84 83.78,783.96 84.08,777.4 84.37,810.2 84.73,843 92.55,843 92.84,829.88 93.43,793.8 94.02,761 94.31,742.96 94.6,770.84 94.9,744.6 95.19,728.2 95.78,721.64 96.37,728.2 96.96,751.16 97.54,780.68 98.13,818.4 98.72,843 106.66,843 106.95,829.88 107.54,790.52 108.13,747.88 108.72,724.92 109.3,715.08 109.89,711.8 110.48,721.64 111.07,741.32 111.66,764.28 112.07,783.96 112.42,769.86 112.77,787.24 113.13,823.32 113.42,843 121.06,843 121.65,818.4 122.24,780.68 122.83,777.4 123.12,783.96 123.42,770.84 123.71,793.8 124,820.04 124.3,802 124.59,783.96 124.89,793.8 125.18,797.08 125.77,823.32 126.36,843 134.88,843 135.18,826.6 135.76,785.6 136.35,761 136.65,770.84 136.94,774.12 137.23,777.4 137.53,775.76 138.12,780.68 138.41,793.8 138.7,797.08 139,813.48 139.29,806.92 139.88,826.6 140.47,843 148.99,843 149.29,833.16 149.88,802 150.46,769.2 151.05,747.88 151.64,737.22 152.23,741.32 152.82,757.72 153.11,772.48 153.4,770.84 153.99,793.8 154.58,826.6 155.17,843 163.4,843 163.99,826.6 164.58,785.6 165.16,747.88 165.75,721.64 166.16,708.52 166.63,721.64 166.93,726.56 167.16,728.2 167.52,744.6 168.1,774.12 168.69,810.2 169.28,838.08 169.57,843 177.22,843 177.51,818.4 177.81,765.92 178.1,798.72 178.39,769.2 178.69,752.8 179.28,731.48 179.86,718.36 180.22,714.26 180.75,721.64 181.33,744.6 181.92,764.28 182.22,769.2 182.8,797.08 183.39,829.88 183.86,843 191.27,843 191.62,802 192.09,765.92 192.51,777.4 193.09,802 193.74,812.33 194.27,793.8 194.86,777.4 195.45,764.28 196.21,751.16 196.92,802 197.5,834.8 197.86,843 205.97,843 206.32,802 206.91,769.2 207.21,777.4 207.5,770.84 207.79,780.68 208.09,769.2 208.38,775.76 208.68,767.56 208.97,774.12 209.44,769.2 209.85,761 210.44,741.32 211.03,793.8 211.62,829.88 211.91,843 220.02,843 220.44,802 221.02,757.72 221.49,738.04 221.91,752.8 222.2,764.28 222.61,769.2 222.91,761 223.26,770.84 223.67,764.28 224.08,774.12 224.61,754.44 224.9,777.4 225.43,802 225.9,829.88 226.26,843 233.84,843 234.25,793.8 234.67,757.72 235.02,738.04 235.43,747.88 235.84,752.8 236.31,749.52 236.66,752.8 236.9,777.4 237.19,761 237.61,757.72 238.08,769.2 238.66,790.52 239.25,818.4 239.72,838.08 239.96,843 247.37,843 247.78,793.8 248.19,764.28 248.54,767.56 248.95,752.8 249.54,741.32 250.19,733.12 250.54,744.6 250.89,741.32 251.31,769.2 251.72,797.08 252.31,829.88 252.78,810.2 253.66,769.2 254.25,823.32 254.72,843 262.24,843 262.77,793.8 263.36,757.72 263.95,738.04 264.3,744.6 264.71,739.68 265.12,744.6 265.54,738.04 266.01,747.88 266.59,764.28 267.18,785.6 267.77,810.2 268.36,833.16 268.83,843 271.59,843" fill="none" stroke="#dc1616" stroke-width="1.2" stroke-linejoin="round" stroke-linecap="round"/>
<polyline points="60.5,835.78 60.65,833.68 60.79,831.58 60.94,829.48 61.09,827.38 61.23,825.27 61.38,823.17 61.53,821.06 61.68,818.96 61.82,816.85 61.97,814.74 62.12,812.64 62.26,810.53 62.41,808.35 62.56,806.08 62.7,803.77 62.85,801.48 63,799.26 63.15,797.18 63.29,795.28 63.44,793.64 63.59,792.15 63.73,790.72 63.88,789.38 64.03,788.16 64.17,787.08 64.32,786.18 64.47,785.47 64.62,784.84 64.76,784.25 64.91,783.74 65.06,783.36 65.2,783.16 65.35,783.16 65.5,783.26 65.64,783.44 65.79,783.69 65.94,783.99 66.09,784.34 66.23,784.7 66.38,785.16 66.53,785.84 66.67,786.72 66.82,787.77 66.97,788.94 67.11,790.21 67.26,791.55 67.41,792.92 67.56,794.3 67.7,795.64 67.85,796.92 68,798.19 68.14,799.54 68.29,800.95 68.44,802.39 68.58,803.85 68.73,805.3 68.88,806.74 69.03,808.13 69.17,809.47 69.32,810.73 69.47,811.9 69.61,813.09 69.76,814.3 69.91,815.5 70.06,816.63 70.2,817.66 70.35,818.53 70.5,819.19 70.64,819.61 70.79,819.94 70.94,820.23 71.08,820.49 71.23,820.71 71.38,820.88 71.53,820.99 71.67,821.02 71.82,821 71.97,820.92 72.11,820.79 72.26,820.63 72.41,820.43 72.55,820.21 72.7,819.96 72.85,819.7 73,819.44 73.14,819.14 73.29,818.74 73.44,818.26 73.58,817.7 73.73,817.08 73.88,816.41 74.02,815.71 74.17,814.98 74.32,814.23 74.47,813.49 74.61,812.75 74.76,812.04 74.91,811.36 75.05,810.73 75.2,810.09 75.35,809.43 75.49,808.74 75.64,808.05 75.79,807.36 75.94,806.67 76.08,806 76.23,805.35 76.38,804.74 76.52,804.17 76.67,803.65 76.82,803.19 76.96,802.79 77.11,802.46 77.26,802.13 77.41,801.81 77.55,801.5 77.7,801.2 77.85,800.92 77.99,800.68 78.14,800.46 78.29,800.28 78.43,800.15 78.58,800.06 78.73,800.03 78.88,800.06 79.02,800.14 79.17,800.27 79.32,800.44 79.46,800.64 79.61,800.87 79.76,801.12 79.9,801.37 80.05,801.64 80.2,801.9 80.34,802.16 80.49,802.47 80.64,802.83 80.79,803.22 80.93,803.64 81.08,804.07 81.23,804.53 81.37,804.98 81.52,805.43 81.67,805.88 81.81,806.3 81.96,806.69 82.11,807.05 82.26,807.37 82.4,807.7 82.55,808.03 82.7,808.37 82.84,808.71 82.99,809.05 83.14,809.39 83.28,809.72 83.43,810.04 83.58,810.35 83.73,810.65 83.87,810.93 84.02,811.19 84.17,811.42 84.31,811.63 84.46,811.81 84.61,811.95 84.75,812.06 84.9,812.14 85.05,812.17 85.2,812.16 85.34,812.12 85.49,812.05 85.64,811.97 85.78,811.86 85.93,811.73 86.08,811.59 86.22,811.44 86.37,811.27 86.52,811.11 86.67,810.93 86.81,810.76 86.96,810.59 87.11,810.42 87.25,810.22 87.4,809.99 87.55,809.73 87.69,809.46 87.84,809.17 87.99,808.87 88.14,808.57 88.28,808.26 88.43,807.96 88.58,807.67 88.72,807.39 88.87,807.14 89.02,806.91 89.16,806.7 89.31,806.54 89.46,806.4 89.61,806.29 89.75,806.17 89.9,806.06 90.05,805.95 90.19,805.84 90.34,805.74 90.49,805.65 90.63,805.55 90.78,805.47 90.93,805.39 91.08,805.32 91.22,805.26 91.37,805.21 91.52,805.17 91.66,805.14 91.81,805.12 91.96,805.12 92.1,805.12 92.25,805.14 92.4,805.17 92.55,805.2 92.69,805.25 92.84,805.31 92.99,805.37 93.13,805.44 93.28,805.53 93.43,805.61 93.57,805.71 93.72,805.81 93.87,805.91 94.02,806.02 94.16,806.14 94.31,806.26 94.46,806.38 94.6,806.51 94.75,806.64 94.9,806.77 95.04,806.9 95.19,807.03 95.34,807.17 95.49,807.3 95.63,807.43 95.78,807.56 95.93,807.7 96.07,807.82 96.22,807.95 96.37,808.07 96.52,808.19 96.66,808.31 96.81,808.42 96.96,808.52 97.1,808.62 97.25,808.72 97.4,808.81 97.54,808.89 97.69,808.96 97.84,809.02 97.98,809.08 98.13,809.13 98.28,809.17 98.43,809.19 98.57,809.21 98.72,809.22 98.87,809.21 99.01,809.2 99.16,809.19 99.31,809.17 99.45,809.15 99.6,809.12 99.75,809.08 99.9,809.05 100.04,809.01 100.19,808.96 100.34,808.91 100.48,808.86 100.63,808.8 100.78,808.75 100.92,808.68 101.07,808.62 101.22,808.56 101.37,808.49 101.51,808.42 101.66,808.35 101.81,808.28 101.95,808.21 102.1,808.13 102.25,808.06 102.39,807.99 102.54,807.91 102.69,807.84 102.84,807.77 102.98,807.69 103.13,807.62 103.28,807.55 103.42,807.48 103.57,807.42 103.72,807.35 103.86,807.29 104.01,807.23 104.16,807.17 104.31,807.11 104.45,807.06 104.6,807.01 104.75,806.97 104.89,806.92 105.04,806.89 105.19,806.85 105.34,806.82 105.48,806.8 105.63,806.78 105.78,806.77 105.92,806.76 106.07,806.76 106.22,806.76 106.36,806.76 106.51,806.77 106.66,806.78 106.81,806.79 106.95,806.81 107.1,806.83 107.25,806.85 107.39,806.87 107.54,806.89 107.69,806.92 107.83,806.95 107.98,806.98 108.13,807.01 108.28,807.04 108.42,807.07 108.57,807.11 108.72,807.14 108.86,807.18 109.01,807.22 109.16,807.26 109.3,807.29 109.45,807.33 109.6,807.37 109.75,807.41 109.89,807.45 110.04,807.49 110.19,807.53 110.33,807.57 110.48,807.61 110.63,807.64 110.77,807.68 110.92,807.72 111.07,807.75 111.22,807.78 111.36,807.82 111.51,807.85 111.66,807.88 111.8,807.91 111.95,807.93 112.1,807.96 112.24,807.98 112.39,808 112.54,808.02 112.69,808.03 112.83,808.04 112.98,808.05 113.13,808.06 113.27,808.07 113.42,808.07 113.57,808.07 113.71,808.07 113.86,808.07 114.01,808.07 114.16,808.07 114.3,808.07 114.45,808.07 114.6,808.07 114.74,808.07 114.89,808.07 115.04,808.07 115.18,808.07 115.33,808.07 115.48,808.07 115.62,808.07 115.77,808.07 115.92,808.07 116.07,808.07 116.21,808.07 116.36,808.07 116.51,808.07 116.65,808.07 116.8,808.07 116.95,808.07 117.09,808.07 117.24,808.07 117.39,808.07 117.54,808.07 117.68,808.07 117.83,808.07 117.98,808.07 118.12,808.07 118.27,808.07 118.42,808.07 118.56,808.07 118.71,808.07 118.86,808.07 119.01,808.07 119.15,808.07 119.3,808.07 119.45,808.07 119.59,808.07 119.74,808.07 119.89,808.07 120.03,808.07 120.18,808.07 120.33,808.07 120.48,808.07 120.62,808.07 120.77,808.07 120.92,808.07 121.06,808.07 121.21,808.07 121.36,808.07 121.5,808.07 121.65,808.07 121.8,808.07 121.95,808.07 122.09,808.07 122.24,808.07 122.39,808.07 122.53,808.07 122.68,808.07 122.83,808.07 122.97,808.07 123.12,808.07 123.27,808.07 123.42,808.07 123.56,808.07 123.71,808.07 123.86,808.07 124,808.07 124.15,808.07 124.3,808.07 124.44,808.07 124.59,808.07 124.74,808.07 124.89,808.07 125.03,808.07 125.18,808.07 125.33,808.07 125.47,808.07 125.62,808.07 125.77,808.07 125.91,808.07 126.06,808.07 126.21,808.07 126.36,808.07 126.5,808.07 126.65,808.07 126.8,808.07 126.94,808.07 127.09,808.07 127.24,808.07 127.38,808.07 127.53,808.07 127.68,808.07 127.83,808.07 127.97,808.07 128.12,808.07 128.27,808.07 128.41,808.07 128.56,808.07 128.71,808.07 128.85,808.07 129,808.07 129.15,808.07 129.3,808.07 129.44,808.07 129.59,808.07 129.74,808.07 129.88,808.07 130.03,808.07 130.18,808.07 130.32,808.07 130.47,808.07 130.62,808.07 130.77,808.07 130.91,808.07 131.06,808.07 131.21,808.07 131.35,808.07 131.5,808.07 131.65,808.07 131.8,808.07 131.94,808.07 132.09,808.07 132.24,808.07 132.38,808.07 132.53,808.07 132.68,808.07 132.82,808.07 132.97,808.07 133.12,808.07 133.26,808.07 133.41,808.07 133.56,808.07 133.71,808.07 133.85,808.07 134,808.07 134.15,808.07 134.29,808.07 134.44,808.07 134.59,808.07 134.74,808.07 134.88,808.07 135.03,808.07 135.18,808.07 135.32,808.07 135.47,808.07 135.62,808.07 135.76,808.07 135.91,808.07 136.06,808.07 136.2,808.07 136.35,808.07 136.5,808.07 136.65,808.07 136.79,808.07 136.94,808.07 137.09,808.07 137.23,808.07 137.38,808.07 137.53,808.07 137.68,808.07 137.82,808.07 137.97,808.07 138.12,808.07 138.26,808.07 138.41,808.07 138.56,808.07 138.7,808.07 138.85,808.07 139,808.07 139.14,808.07 139.29,808.07 139.44,808.07 139.59,808.07 139.73,808.07 139.88,808.07 140.03,808.07 140.17,808.07 140.32,808.07 140.47,808.07 140.62,808.07 140.76,808.07 140.91,808.07 141.06,808.07 141.2,808.07 141.35,808.07 141.5,808.07 141.64,808.07 141.79,808.07 141.94,808.07 142.08,808.07 142.23,808.07 142.38,808.07 142.53,808.07 142.67,808.07 142.82,808.07 142.97,808.07 143.11,808.07 143.26,808.07 143.41,808.07 143.56,808.07 143.7,808.07 143.85,808.07 144,808.07 144.14,808.07 144.29,808.07 144.44,808.07 144.58,808.07 144.73,808.07 144.88,808.07 145.02,808.07 145.17,808.07 145.32,808.07 145.47,808.07 145.61,808.07 145.76,808.07 145.91,808.07 146.05,808.07 146.2,808.07 146.35,808.07 146.5,808.07 146.64,808.07 146.79,808.07 146.94,808.07 147.08,808.07 147.23,808.07 147.38,808.07 147.52,808.07 147.67,808.07 147.82,808.07 147.96,808.07 148.11,808.07 148.26,808.07 148.41,808.07 148.55,808.07 148.7,808.07 148.85,808.07 148.99,808.07 149.14,808.07 149.29,808.07 149.44,808.07 149.58,808.07 149.73,808.07 149.88,808.07 150.02,808.07 150.17,808.07 150.32,808.07 150.46,808.07 150.61,808.07 150.76,808.07 150.91,808.07 151.05,808.07 151.2,808.07 151.35,808.07 151.49,808.07 151.64,808.07 151.79,808.07 151.93,808.07 152.08,808.07 152.23,808.07 152.38,808.07 152.52,808.07 152.67,808.07 152.82,808.07 152.96,808.07 153.11,808.07 153.26,808.07 153.4,808.07 153.55,808.07 153.7,808.07 153.84,808.07 153.99,808.07 154.14,808.07 154.29,808.07 154.43,808.07 154.58,808.07 154.73,808.07 154.87,808.07 155.02,808.07 155.17,808.07 155.31,808.07 155.46,808.07 155.61,808.07 155.76,808.07 155.9,808.07 156.05,808.07 156.2,808.07 156.34,808.07 156.49,808.07 156.64,808.07 156.78,808.07 156.93,808.07 157.08,808.07 157.23,808.07 157.37,808.07 157.52,808.07 157.67,808.07 157.81,808.07 157.96,808.07 158.11,808.07 158.25,808.07 158.4,808.07 158.55,808.07 158.7,808.07 158.84,808.07 158.99,808.07 159.14,808.07 159.28,808.07 159.43,808.07 159.58,808.07 159.72,808.07 159.87,808.07 160.02,808.07 160.17,808.07 160.31,808.07 160.46,808.07 160.61,808.07 160.75,808.07 160.9,808.07 161.05,808.07 161.19,808.07 161.34,808.07 161.49,808.07 161.64,808.07 161.78,808.07 161.93,808.07 162.08,808.07 162.22,808.07 162.37,808.07 162.52,808.07 162.66,808.07 162.81,808.07 162.96,808.07 163.11,808.07 163.25,808.07 163.4,808.07 163.55,808.07 163.69,808.07 163.84,808.07 163.99,808.07 164.13,808.07 164.28,808.07 164.43,808.07 164.58,808.07 164.72,808.07 164.87,808.07 165.02,808.07 165.16,808.07 165.31,808.07 165.46,808.07 165.6,808.07 165.75,808.07 165.9,808.07 166.05,808.07 166.19,808.07 166.34,808.07 166.49,808.07 166.63,808.07 166.78,808.07 166.93,808.07 167.07,808.07 167.22,808.07 167.37,808.07 167.52,808.07 167.66,808.07 167.81,808.07 167.96,808.07 168.1,808.07 168.25,808.07 168.4,808.07 168.54,808.07 168.69,808.07 168.84,808.07 168.99,808.07 169.13,808.07 169.28,808.07 169.43,808.07 169.57,808.07 169.72,808.07 169.87,808.07 170.01,808.07 170.16,808.07 170.31,808.07 170.46,808.07 170.6,808.07 170.75,808.07 170.9,808.07 171.04,808.07 171.19,808.07 171.34,808.07 171.49,808.07 171.63,808.07 171.78,808.07 171.93,808.07 172.07,808.07 172.22,808.07 172.37,808.07 172.51,808.07 172.66,808.07 172.81,808.07 172.95,808.07 173.1,808.07 173.25,808.07 173.4,808.07 173.54,808.07 173.69,808.07 173.84,808.07 173.98,808.07 174.13,808.07 174.28,808.07 174.43,808.07 174.57,808.07 174.72,808.07 174.87,808.07 175.01,808.07 175.16,808.07 175.31,808.07 175.45,808.07 175.6,808.07 175.75,808.07 175.89,808.07 176.04,808.07 176.19,808.07 176.34,808.07 176.48,808.07 176.63,808.07 176.78,808.07 176.92,808.07 177.07,808.07 177.22,808.07 177.37,808.07 177.51,808.07 177.66,808.07 177.81,808.07 177.95,808.07 178.1,808.07 178.25,808.07 178.39,808.07 178.54,808.07 178.69,808.07 178.83,808.07 178.98,808.07 179.13,808.07 179.28,808.07 179.42,808.07 179.57,808.07 179.72,808.07 179.86,808.07 180.01,808.07 180.16,808.07 180.31,808.07 180.45,808.07 180.6,808.07 180.75,808.07 180.89,808.07 181.04,808.07 181.19,808.07 181.33,808.07 181.48,808.07 181.63,808.07 181.77,808.07 181.92,808.07 182.07,808.07 182.22,808.07 182.36,808.07 182.51,808.07 182.66,808.07 182.8,808.07 182.95,808.07 183.1,808.07 183.25,808.07 183.39,808.07 183.54,808.07 183.69,808.07 183.83,808.07 183.98,808.07 184.13,808.07 184.27,808.07 184.42,808.07 184.57,808.07 184.71,808.07 184.86,808.07 185.01,808.07 185.16,808.07 185.3,808.07 185.45,808.07 185.6,808.07 185.74,808.07 185.89,808.07 186.04,808.07 186.19,808.07 186.33,808.07 186.48,808.07 186.63,808.07 186.77,808.07 186.92,808.07 187.07,808.07 187.21,808.07 187.36,808.07 187.51,808.07 187.65,808.07 187.8,808.07 187.95,808.07 188.1,808.07 188.24,808.07 188.39,808.07 188.54,808.07 188.68,808.07 188.83,808.07 188.98,808.07 189.12,808.07 189.27,808.07 189.42,808.07 189.57,808.07 189.71,808.07 189.86,808.07 190.01,808.07 190.15,808.07 190.3,808.07 190.45,808.07 190.59,808.07 190.74,808.07 190.89,808.07 191.04,808.07 191.18,808.07 191.33,808.07 191.48,808.07 191.62,808.07 191.77,808.07 191.92,808.07 192.06,808.07 192.21,808.07 192.36,808.07 192.51,808.07 192.65,808.07 192.8,808.07 192.95,808.07 193.09,808.07 193.24,808.07 193.39,808.07 193.53,808.07 193.68,808.07 193.83,808.07 193.98,808.07 194.12,808.07 194.27,808.07 194.42,808.07 194.56,808.07 194.71,808.07 194.86,808.07 195,808.07 195.15,808.07 195.3,808.07 195.45,808.07 195.59,808.07 195.74,808.07 195.89,808.07 196.03,808.07 196.18,808.07 196.33,808.07 196.47,808.07 196.62,808.07 196.77,808.07 196.92,808.07 197.06,808.07 197.21,808.07 197.36,808.07 197.5,808.07 197.65,808.07 197.8,808.07 197.94,808.07 198.09,808.07 198.24,808.07 198.39,808.07 198.53,808.07 198.68,808.07 198.83,808.07 198.97,808.07 199.12,808.07 199.27,808.07 199.41,808.07 199.56,808.07 199.71,808.07 199.86,808.07 200,808.07 200.15,808.07 200.3,808.07 200.44,808.07 200.59,808.07 200.74,808.07 200.88,808.07 201.03,808.07 201.18,808.07 201.33,808.07 201.47,808.07 201.62,808.07 201.77,808.07 201.91,808.07 202.06,808.07 202.21,808.07 202.35,808.07 202.5,808.07 202.65,808.07 202.8,808.07 202.94,808.07 203.09,808.07 203.24,808.07 203.38,808.07 203.53,808.07 203.68,808.07 203.82,808.07 203.97,808.07 204.12,808.07 204.27,808.07 204.41,808.07 204.56,808.07 204.71,808.07 204.85,808.07 205,808.07 205.15,808.07 205.29,808.07 205.44,808.07 205.59,808.07 205.74,808.07 205.88,808.07 206.03,808.07 206.18,808.07 206.32,808.07 206.47,808.07 206.62,808.07 206.76,808.07 206.91,808.07 207.06,808.07 207.21,808.07 207.35,808.07 207.5,808.07 207.65,808.07 207.79,808.07 207.94,808.07 208.09,808.07 208.23,808.07 208.38,808.07 208.53,808.07 208.68,808.07 208.82,808.07 208.97,808.07 209.12,808.07 209.26,808.07 209.41,808.07 209.56,808.07 209.7,808.07 209.85,808.07 210,808.07 210.15,808.07 210.29,808.07 210.44,808.07 210.59,808.07 210.73,808.07 210.88,808.07 211.03,808.07 211.17,808.07 211.32,808.07 211.47,808.07 211.62,808.07 211.76,808.07 211.91,808.07 212.06,808.07 212.2,808.07 212.35,808.07 212.5,808.07 212.64,808.07 212.79,808.07 212.94,808.07 213.09,808.07 213.23,808.07 213.38,808.07 213.53,808.07 213.67,808.07 213.82,808.07 213.97,808.07 214.11,808.07 214.26,808.07 214.41,808.07 214.56,808.07 214.7,808.07 214.85,808.07 215,808.07 215.14,808.07 215.29,808.07 215.44,808.07 215.58,808.07 215.73,808.07 215.88,808.07 216.03,808.07 216.17,808.07 216.32,808.07 216.47,808.07 216.61,808.07 216.76,808.07 216.91,808.07 217.05,808.07 217.2,808.07 217.35,808.07 217.5,808.07 217.64,808.07 217.79,808.07 217.94,808.07 218.08,808.07 218.23,808.07 218.38,808.07 218.52,808.07 218.67,808.07 218.82,808.07 218.97,808.07 219.11,808.07 219.26,808.07 219.41,808.07 219.55,808.07 219.7,808.07 219.85,808.07 220,808.07 220.14,808.07 220.29,808.07 220.44,808.07 220.58,808.07 220.73,808.07 220.88,808.07 221.02,808.07 221.17,808.07 221.32,808.07 221.47,808.07 221.61,808.07 221.76,808.07 221.91,808.07 222.05,808.07 222.2,808.07 222.35,808.07 222.49,808.07 222.64,808.07 222.79,808.07 222.94,808.07 223.08,808.07 223.23,808.07 223.38,808.07 223.52,808.07 223.67,808.07 223.82,808.07 223.96,808.07 224.11,808.07 224.26,808.07 224.41,808.07 224.55,808.07 224.7,808.07 224.85,808.07 224.99,808.07 225.14,808.07 225.29,808.07 225.43,808.07 225.58,808.07 225.73,808.07 225.88,808.07 226.02,808.07 226.17,808.07 226.32,808.07 226.46,808.07 226.61,808.07 226.76,808.07 226.9,808.07 227.05,808.07 227.2,808.07 227.34,808.07 227.49,808.07 227.64,808.07 227.79,808.07 227.93,808.07 228.08,808.07 228.23,808.07 228.37,808.07 228.52,808.07 228.67,808.07 228.81,808.07 228.96,808.07 229.11,808.07 229.26,808.07 229.4,808.07 229.55,808.07 229.7,808.07 229.84,808.07 229.99,808.07 230.14,808.07 230.28,808.07 230.43,808.07 230.58,808.07 230.73,808.07 230.87,808.07 231.02,808.07 231.17,808.07 231.31,808.07 231.46,808.07 231.61,808.07 231.75,808.07 231.9,808.07 232.05,808.07 232.2,808.07 232.34,808.07 232.49,808.07 232.64,808.07 232.78,808.07 232.93,808.07 233.08,808.07 233.22,808.07 233.37,808.07 233.52,808.07 233.67,808.07 233.81,808.07 233.96,808.07 234.11,808.07 234.25,808.07 234.4,808.07 234.55,808.07 234.69,808.07 234.84,808.07 234.99,808.07 235.14,808.07 235.28,808.07 235.43,808.07 235.58,808.07 235.72,808.07 235.87,808.07 236.02,808.07 236.16,808.07 236.31,808.07 236.46,808.07 236.61,808.07 236.75,808.07 236.9,808.07 237.05,808.07 237.19,808.07 237.34,808.07 237.49,808.07 237.63,808.07 237.78,808.07 237.93,808.07 238.08,808.07 238.22,808.07 238.37,808.07 238.52,808.07 238.66,808.07 238.81,808.07 238.96,808.07 239.1,808.07 239.25,808.07 239.4,808.07 239.55,808.07 239.69,808.07 239.84,808.07 239.99,808.07 240.13,808.07 240.28,808.07 240.43,808.07 240.57,808.07 240.72,808.07 240.87,808.07 241.02,808.07 241.16,808.07 241.31,808.07 241.46,808.07 241.6,808.07 241.75,808.07 241.9,808.07 242.04,808.07 242.19,808.07 242.34,808.07 242.49,808.07 242.63,808.07 242.78,808.07 242.93,808.07 243.07,808.07 243.22,808.07 243.37,808.07 243.51,808.07 243.66,808.07 243.81,808.07 243.96,808.07 244.1,808.07 244.25,808.07 244.4,808.07 244.54,808.07 244.69,808.07 244.84,808.07 244.98,808.07 245.13,808.07 245.28,808.07 245.43,808.07 245.57,808.07 245.72,808.07 245.87,808.07 246.01,808.07 246.16,808.07 246.31,808.07 246.45,808.07 246.6,808.07 246.75,808.07 246.9,808.07 247.04,808.07 247.19,808.07 247.34,808.07 247.48,808.07 247.63,808.07 247.78,808.07 247.92,808.07 248.07,808.07 248.22,808.07 248.37,808.07 248.51,808.07 248.66,808.07 248.81,808.07 248.95,808.07 249.1,808.07 249.25,808.07 249.39,808.07 249.54,808.07 249.69,808.07 249.84,808.07 249.98,808.07 250.13,808.07 250.28,808.07 250.42,808.07 250.57,808.07 250.72,808.07 250.86,808.07 251.01,808.07 251.16,808.07 251.31,808.07 251.45,808.07 251.6,808.07 251.75,808.07 251.89,808.07 252.04,808.07 252.19,808.07 252.33,808.07 252.48,808.07 252.63,808.07 252.78,808.07 252.92,808.07 253.07,808.07 253.22,808.07 253.36,808.07 253.51,808.07 253.66,808.07 253.8,808.07 253.95,808.07 254.1,808.07 254.25,808.07 254.39,808.07 254.54,808.07 254.69,808.07 254.83,808.07 254.98,808.07 255.13,808.07 255.27,808.07 255.42,808.07 255.57,808.07 255.72,808.07 255.86,808.07 256.01,808.07 256.16,808.07 256.3,808.07 256.45,808.07 256.6,808.07 256.75,808.07 256.89,808.07 257.04,808.07 257.19,808.07 257.33,808.07 257.48,808.07 257.63,808.07 257.77,808.07 257.92,808.07 258.07,808.07 258.21,808.07 258.36,808.07 258.51,808.07 258.66,808.07 258.8,808.07 258.95,808.07 259.1,808.07 259.24,808.07 259.39,808.07 259.54,808.07 259.69,808.07 259.83,808.07 259.98,808.07 260.13,808.07 260.27,808.07 260.42,808.07 260.57,808.07 260.71,808.07 260.86,808.07 261.01,808.07 261.15,808.07 261.3,808.07 261.45,808.07 261.6,808.07 261.74,808.07 261.89,808.07 262.04,808.07 262.18,808.07 262.33,808.07 262.48,808.07 262.62,808.07 262.77,808.07 262.92,808.07 263.07,808.07 263.21,808.07 263.36,808.07 263.51,808.07 263.65,808.07 263.8,808.07 263.95,808.07 264.1,808.07 264.24,808.07 264.39,808.07 264.54,808.07 264.68,808.07 264.83,808.07 264.98,808.07 265.12,808.07 265.27,808.07 265.42,808.07 265.56,808.07 265.71,808.07 265.86,808.07 266.01,808.07 266.15,808.07 266.3,808.07 266.45,808.07 266.59,808.07 266.74,808.07 266.89,808.07 267.03,808.07 267.18,808.07 267.33,808.07 267.48,808.07 267.62,808.07 267.77,808.07 267.92,808.07 268.06,808.07 268.21,808.07 268.36,808.07 268.5,808.07 268.65,808.07 268.8,808.07 268.95,808.07 269.09,808.07 269.24,808.07 269.39,808.07 269.53,808.07 269.68,808.07 269.83,808.07 269.98,808.07 270.12,808.07 270.27,808.07 270.42,808.07 270.56,808.07 270.71,808.07 270.86,808.07 271,808.07 271.15,808.07 271.3,808.07 271.44,808.07 271.59,808.07" fill="none" stroke="#2020e0" stroke-width="1.35" stroke-linejoin="round" stroke-linecap="round"/>
<rect x="50.5" y="701.5" width="232" height="148.5" fill="none" stroke="#3c3c3c" stroke-width="0.9"/>
<rect x="272" y="705.3" width="6.5" height="5.5" rx="1.2" fill="none" stroke="#d8d8d8" stroke-width="0.8"/>
<path d="M60.5 850v2.6 M89.9 850v2.6 M119.3 850v2.6 M148.7 850v2.6 M178.1 850v2.6 M207.5 850v2.6 M236.9 850v2.6 M266.3 850v2.6 M50.5 843h-2.6 M50.5 810.2h-2.6 M50.5 777.4h-2.6 M50.5 744.6h-2.6 M50.5 711.8h-2.6" stroke="#3c3c3c" stroke-width="1"/></g>
<g><polyline points="333.25,838 338.21,838 338.55,825.25 339.21,786.99 339.87,748.74 340.53,726.42 341.19,716.86 341.86,715.26 342.52,721.64 343.18,739.17 343.84,767.86 344.5,806.12 345.17,833.22 345.5,838 354.1,838 354.43,830.03 355.1,790.18 355.76,750.33 356.42,729.61 357.08,720.04 357.74,718.45 358.41,726.42 359.07,750.33 359.47,777.43 359.8,767.86 360.13,780.62 360.46,774.24 360.79,806.12 361.19,838 369.99,838 370.32,825.25 370.98,790.18 371.65,758.3 371.98,740.77 372.31,767.86 372.64,742.36 372.97,726.42 373.63,720.04 374.29,726.42 374.96,748.74 375.62,777.43 376.28,814.09 376.94,838 385.88,838 386.21,825.25 386.87,786.99 387.53,745.55 388.2,723.23 388.86,713.67 389.52,710.48 390.18,720.04 390.84,739.17 391.51,761.49 391.97,780.62 392.37,766.91 392.76,783.8 393.16,818.87 393.49,838 402.1,838 402.76,814.09 403.42,777.43 404.08,774.24 404.42,780.62 404.75,767.86 405.08,790.18 405.41,815.68 405.74,798.15 406.07,780.62 406.4,790.18 406.73,793.37 407.39,818.87 408.06,838 417.65,838 417.99,822.06 418.65,782.21 419.31,758.3 419.64,767.86 419.97,771.05 420.3,774.24 420.63,772.65 421.3,777.43 421.63,790.18 421.96,793.37 422.29,809.31 422.62,802.93 423.28,822.06 423.94,838 433.54,838 433.87,828.44 434.54,798.15 435.2,766.27 435.86,745.55 436.52,735.19 437.18,739.17 437.85,755.11 438.18,769.46 438.51,767.86 439.17,790.18 439.83,822.06 440.49,838 449.76,838 450.42,822.06 451.09,782.21 451.75,745.55 452.41,720.04 452.87,707.29 453.4,720.04 453.73,724.83 454,726.42 454.4,742.36 455.06,771.05 455.72,806.12 456.38,833.22 456.71,838 465.32,838 465.65,814.09 465.98,763.08 466.31,794.96 466.64,766.27 466.97,750.33 467.64,729.61 468.3,716.86 468.7,712.87 469.29,720.04 469.95,742.36 470.62,761.49 470.95,766.27 471.61,793.37 472.27,825.25 472.8,838 481.14,838 481.54,798.15 482.07,763.08 482.53,774.24 483.19,798.15 483.92,808.19 484.52,790.18 485.18,774.24 485.84,761.49 486.7,748.74 487.5,798.15 488.16,830.03 488.56,838 497.69,838 498.09,798.15 498.75,766.27 499.08,774.24 499.41,767.86 499.74,777.43 500.07,766.27 500.4,772.65 500.74,764.68 501.07,771.05 501.6,766.27 502.06,758.3 502.72,739.17 503.38,790.18 504.05,825.25 504.38,838 513.51,838 513.98,798.15 514.64,755.11 515.17,735.98 515.63,750.33 515.96,761.49 516.43,766.27 516.76,758.3 517.15,767.86 517.62,761.49 518.08,771.05 518.68,751.92 519.01,774.24 519.6,798.15 520.13,825.25 520.53,838 529.07,838 529.53,790.18 530,755.11 530.39,735.98 530.86,745.55 531.32,750.33 531.85,747.14 532.25,750.33 532.51,774.24 532.84,758.3 533.31,755.11 533.84,766.27 534.5,786.99 535.16,814.09 535.69,833.22 535.95,838 544.3,838 544.76,790.18 545.22,761.49 545.62,764.68 546.08,750.33 546.75,739.17 547.47,731.2 547.87,742.36 548.27,739.17 548.73,766.27 549.19,793.37 549.86,825.25 550.39,806.12 551.38,766.27 552.04,818.87 552.57,838 561.04,838 561.64,790.18 562.3,755.11 562.96,735.98 563.36,742.36 563.82,737.58 564.29,742.36 564.75,735.98 565.28,745.55 565.94,761.49 566.61,782.21 567.27,806.12 567.93,828.44 568.46,838 571.57,838" fill="none" stroke="#dc1616" stroke-width="1.2" stroke-linejoin="round" stroke-linecap="round"/>
<polyline points="333.25,825.25 333.58,825.25 333.91,825.25 334.24,825.25 334.57,825.25 334.9,825.25 335.24,825.25 335.57,825.25 335.9,825.25 336.23,825.25 336.56,825.25 336.89,825.25 337.22,825.25 337.55,825.25 337.88,825.25 338.21,825.25 338.55,823.9 338.88,819.95 339.21,813.62 339.54,805.28 339.87,795.41 340.2,784.59 340.53,773.45 340.86,762.63 341.19,752.76 341.52,744.42 341.86,738.09 342.19,734.14 342.52,732.8 342.85,734.74 343.18,740.41 343.51,749.36 343.84,760.84 344.17,773.95 344.5,787.6 344.83,800.71 345.17,812.2 345.5,821.14 345.83,826.81 346.16,828.75 346.49,828.75 346.82,828.75 347.15,828.75 347.48,828.75 347.81,828.75 348.14,828.75 348.48,828.75 348.81,828.75 349.14,828.75 349.47,828.75 349.8,828.75 350.13,828.75 350.46,828.75 350.79,828.75 351.12,828.75 351.45,828.75 351.79,828.75 352.12,828.75 352.45,828.75 352.78,828.75 353.11,828.75 353.44,828.75 353.77,828.75 354.1,828.75 354.43,827.2 354.76,822.64 355.1,815.33 355.43,805.69 355.76,794.29 356.09,781.79 356.42,768.92 356.75,756.42 357.08,745.02 357.41,735.39 357.74,728.07 358.07,723.51 358.41,721.96 358.74,724.27 359.07,731.03 359.4,741.68 359.73,755.36 360.06,770.97 360.39,787.23 360.72,802.84 361.05,816.52 361.38,827.18 361.72,833.93 362.05,836.25 362.38,836.25 362.71,836.25 363.04,836.25 363.37,836.25 363.7,836.25 364.03,836.25 364.36,836.25 364.69,836.25 365.03,836.25 365.36,836.25 365.69,836.25 366.02,836.25 366.35,836.25 366.68,836.25 367.01,836.25 367.34,836.25 367.67,836.25 368,836.25 368.34,836.25 368.67,836.25 369,836.25 369.33,836.25 369.66,836.25 369.99,836.25 370.32,834.73 370.65,830.28 370.98,823.14 371.31,813.73 371.65,802.61 371.98,790.41 372.31,777.84 372.64,765.64 372.97,754.51 373.3,745.11 373.63,737.97 373.96,733.51 374.29,732 374.62,734.07 374.96,740.11 375.29,749.63 375.62,761.86 375.95,775.82 376.28,790.36 376.61,804.31 376.94,816.54 377.27,826.06 377.6,832.1 377.94,834.17 378.27,834.17 378.6,834.17 378.93,834.17 379.26,834.17 379.59,834.17 379.92,834.17 380.25,834.17 380.58,834.17 380.91,834.17 381.25,834.17 381.58,834.17 381.91,834.17 382.24,834.17 382.57,834.17 382.9,834.17 383.23,834.17 383.56,834.17 383.89,834.17 384.22,834.17 384.56,834.17 384.89,834.17 385.22,834.17 385.55,834.17 385.88,834.17 386.21,834.17 386.54,832.36 386.87,827.04 387.2,818.5 387.53,807.25 387.87,793.95 388.2,779.36 388.53,764.34 388.86,749.75 389.19,736.44 389.52,725.2 389.85,716.66 390.18,711.33 390.51,709.52 390.84,712.18 391.18,719.92 391.51,732.13 391.84,747.82 392.17,765.71 392.5,784.36 392.83,802.25 393.16,817.94 393.49,830.15 393.82,837.9 394.15,840.55 394.49,840.55 394.82,840.55 395.15,840.55 395.48,840.55 395.81,840.55 396.14,840.55 396.47,840.55 396.8,840.55 397.13,840.55 397.46,840.55 397.8,840.55 398.13,840.55 398.46,840.55 398.79,840.55 399.12,840.55 399.45,840.55 399.78,840.55 400.11,840.55 400.44,840.55 400.77,840.55 401.11,840.55 401.44,839.05 401.77,834.62 402.1,827.52 402.43,818.17 402.76,807.12 403.09,794.99 403.42,782.5 403.75,770.38 404.08,759.32 404.42,749.97 404.75,742.87 405.08,738.45 405.41,736.94 405.74,738.86 406.07,744.48 406.4,753.33 406.73,764.71 407.06,777.68 407.39,791.2 407.73,804.17 408.06,815.55 408.39,824.4 408.72,830.02 409.05,831.94 409.38,831.94 409.71,831.94 410.04,831.94 410.37,831.94 410.7,831.94 411.04,831.94 411.37,831.94 411.7,831.94 412.03,831.94 412.36,831.94 412.69,831.94 413.02,831.94 413.35,831.94 413.68,831.94 414.01,831.94 414.35,831.94 414.68,831.94 415.01,831.94 415.34,831.94 415.67,831.94 416,831.94 416.33,831.94 416.66,831.94 416.99,831.94 417.32,831.94 417.65,831.94 417.99,830.69 418.32,826.99 418.65,821.08 418.98,813.28 419.31,804.06 419.64,793.95 419.97,783.54 420.3,773.43 420.63,764.21 420.97,756.41 421.3,750.5 421.63,746.8 421.96,745.55 422.29,747.18 422.62,751.94 422.95,759.44 423.28,769.08 423.61,780.07 423.94,791.52 424.27,802.52 424.61,812.15 424.94,819.66 425.27,824.41 425.6,826.04 425.93,826.04 426.26,826.04 426.59,826.04 426.92,826.04 427.25,826.04 427.59,826.04 427.92,826.04 428.25,826.04 428.58,826.04 428.91,826.04 429.24,826.04 429.57,826.04 429.9,826.04 430.23,826.04 430.56,826.04 430.89,826.04 431.23,826.04 431.56,826.04 431.89,826.04 432.22,826.04 432.55,826.04 432.88,826.04 433.21,826.04 433.54,824.9 433.87,821.54 434.2,816.16 434.54,809.07 434.87,800.69 435.2,791.49 435.53,782.02 435.86,772.82 436.19,764.43 436.52,757.34 436.85,751.96 437.18,748.6 437.51,747.46 437.85,748.99 438.18,753.46 438.51,760.5 438.84,769.55 439.17,779.86 439.5,790.61 439.83,800.93 440.16,809.98 440.49,817.02 440.82,821.49 441.16,823.02 441.49,823.02 441.82,823.02 442.15,823.02 442.48,823.02 442.81,823.02 443.14,823.02 443.47,823.02 443.8,823.02 444.13,823.02 444.47,823.02 444.8,823.02 445.13,823.02 445.46,823.02 445.79,823.02 446.12,823.02 446.45,823.02 446.78,823.02 447.11,823.02 447.44,823.02 447.78,823.02 448.11,823.02 448.44,823.02 448.77,823.02 449.1,823.02 449.43,823.02 449.76,822.06 450.09,819.24 450.42,814.72 450.75,808.76 451.09,801.72 451.42,794 451.75,786.04 452.08,778.32 452.41,771.28 452.74,765.32 453.07,760.8 453.4,757.98 453.73,757.02 454.06,758.36 454.4,762.26 454.73,768.41 455.06,776.31 455.39,785.32 455.72,794.72 456.05,803.73 456.38,811.63 456.71,817.78 457.04,821.68 457.38,823.02 457.71,823.02 458.04,823.02 458.37,823.02 458.7,823.02 459.03,823.02 459.36,823.02 459.69,823.02 460.02,823.02 460.35,823.02 460.69,823.02 461.02,823.02 461.35,823.02 461.68,823.02 462.01,823.02 462.34,823.02 462.67,823.02 463,823.02 463.33,823.02 463.66,823.02 464,823.02 464.33,823.02 464.66,823.02 464.99,823.02 465.32,823.02 465.65,822 465.98,819.01 466.31,814.22 466.64,807.9 466.97,800.44 467.31,792.25 467.64,783.81 467.97,775.62 468.3,768.15 468.63,761.84 468.96,757.05 469.29,754.06 469.62,753.04 469.95,754.45 470.28,758.56 470.62,765.03 470.95,773.35 471.28,782.84 471.61,792.73 471.94,802.22 472.27,810.54 472.6,817.02 472.93,821.13 473.26,822.54 473.59,822.54 473.93,822.54 474.26,822.54 474.59,822.54 474.92,822.54 475.25,822.54 475.58,822.54 475.91,822.54 476.24,822.54 476.57,822.54 476.9,822.54 477.24,822.54 477.57,822.54 477.9,822.54 478.23,822.54 478.56,822.54 478.89,822.54 479.22,822.54 479.55,821.68 479.88,819.17 480.21,815.14 480.55,809.84 480.88,803.56 481.21,796.67 481.54,789.58 481.87,782.7 482.2,776.42 482.53,771.12 482.86,767.09 483.19,764.57 483.52,763.72 483.86,764.73 484.19,767.69 484.52,772.36 484.85,778.35 485.18,785.18 485.51,792.31 485.84,799.14 486.17,805.13 486.5,809.8 486.83,812.76 487.17,813.77 487.5,813.77 487.83,813.77 488.16,813.77 488.49,813.77 488.82,813.77 489.15,813.77 489.48,813.77 489.81,813.77 490.14,813.77 490.48,813.77 490.81,813.77 491.14,813.77 491.47,813.77 491.8,813.77 492.13,813.77 492.46,813.77 492.79,813.77 493.12,813.77 493.45,813.77 493.78,813.77 494.12,813.77 494.45,813.77 494.78,813.77 495.11,813.77 495.44,813.77 495.77,813.77 496.1,813.22 496.43,811.61 496.76,809.02 497.1,805.61 497.43,801.58 497.76,797.16 498.09,792.61 498.42,788.18 498.75,784.15 499.08,780.74 499.41,778.16 499.74,776.54 500.07,775.99 500.4,776.71 500.74,778.79 501.07,782.07 501.4,786.29 501.73,791.1 502.06,796.11 502.39,800.92 502.72,805.14 503.05,808.42 503.38,810.51 503.72,811.22 504.05,811.22 504.38,811.22 504.71,811.22 505.04,811.22 505.37,811.22 505.7,811.22 506.03,811.22 506.36,811.22 506.69,811.22 507.02,811.22 507.36,811.22 507.69,811.22 508.02,811.22 508.35,811.22 508.68,811.22 509.01,811.22 509.34,811.22 509.67,811.22 510,811.22 510.34,811.22 510.67,811.22 511,811.22 511.33,811.22 511.66,811.22 511.99,811.22 512.32,810.78 512.65,809.47 512.98,807.37 513.31,804.61 513.64,801.34 513.98,797.76 514.31,794.07 514.64,790.49 514.97,787.23 515.3,784.46 515.63,782.37 515.96,781.06 516.29,780.62 516.62,781.24 516.96,783.05 517.29,785.9 517.62,789.56 517.95,793.74 518.28,798.1 518.61,802.28 518.94,805.94 519.27,808.79 519.6,810.6 519.93,811.22 520.26,811.22 520.6,811.22 520.93,811.22 521.26,811.22 521.59,811.22 521.92,811.22 522.25,811.22 522.58,811.22 522.91,811.22 523.24,811.22 523.58,811.22 523.91,811.22 524.24,811.22 524.57,811.22 524.9,811.22 525.23,811.22 525.56,811.22 525.89,811.22 526.22,811.22 526.55,811.22 526.88,811.22 527.22,811.22 527.55,811.22 527.88,811.22 528.21,811.22 528.54,810.75 528.87,809.36 529.2,807.13 529.53,804.2 529.86,800.73 530.2,796.92 530.53,793 530.86,789.2 531.19,785.73 531.52,782.79 531.85,780.57 532.18,779.18 532.51,778.7 532.84,779.34 533.17,781.21 533.5,784.15 533.84,787.93 534.17,792.24 534.5,796.73 534.83,801.04 535.16,804.82 535.49,807.76 535.82,809.63 536.15,810.26 536.48,810.26 536.82,810.26 537.15,810.26 537.48,810.26 537.81,810.26 538.14,810.26 538.47,810.26 538.8,810.26 539.13,810.26 539.46,810.26 539.79,810.26 540.12,810.26 540.46,810.26 540.79,810.26 541.12,810.26 541.45,810.26 541.78,810.26 542.11,810.26 542.44,810.26 542.77,810.26 543.1,810.26 543.43,810.26 543.77,810.26 544.1,810.26 544.43,810.26 544.76,809.84 545.09,808.6 545.42,806.62 545.75,804 546.08,800.9 546.41,797.51 546.75,794.01 547.08,790.62 547.41,787.52 547.74,784.9 548.07,782.92 548.4,781.68 548.73,781.25 549.06,781.79 549.39,783.34 549.72,785.79 550.06,788.94 550.39,792.53 550.72,796.28 551.05,799.87 551.38,803.02 551.71,805.47 552.04,807.02 552.37,807.55 552.7,807.55 553.03,807.55 553.37,807.55 553.7,807.55 554.03,807.55 554.36,807.55 554.69,807.55 555.02,807.55 555.35,807.55 555.68,807.55 556.01,807.55 556.34,807.55 556.67,807.55 557.01,807.55 557.34,807.55 557.67,807.55 558,807.55 558.33,807.55 558.66,807.55 558.99,807.55 559.32,807.55 559.65,807.55 559.99,807.55 560.32,807.55 560.65,807.55 560.98,807.26 561.31,806.38 561.64,804.97 561.97,803.11 562.3,800.92 562.63,798.51 562.96,796.03 563.3,793.63 563.63,791.43 563.96,789.58 564.29,788.17 564.62,787.29 564.95,786.99 565.28,787.41 565.61,788.62 565.94,790.54 566.27,793 566.61,795.81 566.94,798.74 567.27,801.54 567.6,804.01 567.93,805.92 568.26,807.14 568.59,807.55 568.92,807.55 569.25,807.55 569.58,807.55 569.91,807.55 570.25,807.55 570.58,807.55 570.91,807.55 571.24,807.55 571.57,807.55" fill="none" stroke="#2020e0" stroke-width="1.35" stroke-linejoin="round" stroke-linecap="round"/>
<rect x="321.75" y="700" width="263.25" height="148" fill="none" stroke="#3c3c3c" stroke-width="0.9"/>
<rect x="574.5" y="703.8" width="6.5" height="5.5" rx="1.2" fill="none" stroke="#d8d8d8" stroke-width="0.8"/>
<path d="M333.25 848v2.6 M366.35 848v2.6 M399.45 848v2.6 M432.55 848v2.6 M465.65 848v2.6 M498.75 848v2.6 M531.85 848v2.6 M564.95 848v2.6 M321.75 838h-2.6 M321.75 806.12h-2.6 M321.75 774.24h-2.6 M321.75 742.36h-2.6 M321.75 710.48h-2.6" stroke="#3c3c3c" stroke-width="1"/></g>
<g><polyline points="639,848.75 642.94,848.75 643.24,835.07 643.85,794.05 644.45,753.02 645.06,729.09 645.66,718.84 646.27,717.13 646.87,723.96 647.48,742.77 648.09,773.54 648.69,814.56 649.3,843.62 649.6,848.75 657.47,848.75 657.78,840.2 658.38,797.47 658.99,754.73 659.59,732.51 660.2,722.25 660.81,720.54 661.41,729.09 662.02,754.73 662.38,783.79 662.68,773.54 662.99,787.21 663.29,780.37 663.59,814.56 663.95,848.75 672.01,848.75 672.31,835.07 672.92,797.47 673.52,763.28 673.83,744.48 674.13,773.54 674.43,746.19 674.74,729.09 675.34,722.25 675.95,729.09 676.55,753.02 677.16,783.79 677.76,823.11 678.37,848.75 686.55,848.75 686.85,835.07 687.46,794.05 688.06,749.6 688.67,725.67 689.27,715.42 689.88,712 690.48,722.25 691.09,742.77 691.7,766.7 692.12,787.21 692.48,772.51 692.85,790.63 693.21,828.24 693.51,848.75 701.39,848.75 701.99,823.11 702.6,783.79 703.2,780.37 703.51,787.21 703.81,773.54 704.11,797.47 704.42,824.82 704.72,806.01 705.02,787.21 705.32,797.47 705.63,800.89 706.23,828.24 706.84,848.75 715.62,848.75 715.92,831.66 716.53,788.92 717.14,763.28 717.44,773.54 717.74,776.96 718.04,780.37 718.35,778.66 718.95,783.79 719.26,797.47 719.56,800.89 719.86,817.98 720.16,811.14 720.77,831.66 721.38,848.75 730.16,848.75 730.46,838.49 731.07,806.01 731.67,771.83 732.28,749.6 732.88,738.49 733.49,742.77 734.09,759.86 734.4,775.25 734.7,773.54 735.31,797.47 735.91,831.66 736.52,848.75 745,848.75 745.6,831.66 746.21,788.92 746.81,749.6 747.42,722.25 747.84,708.58 748.33,722.25 748.63,727.38 748.87,729.09 749.24,746.19 749.84,776.96 750.45,814.56 751.05,843.62 751.36,848.75 759.23,848.75 759.53,823.11 759.84,768.41 760.14,802.6 760.44,771.83 760.75,754.73 761.35,732.51 761.96,718.84 762.32,714.56 762.87,722.25 763.47,746.19 764.08,766.7 764.38,771.83 764.99,800.89 765.59,835.07 766.08,848.75 773.71,848.75 774.07,806.01 774.56,768.41 774.98,780.37 775.59,806.01 776.25,816.78 776.8,797.47 777.4,780.37 778.01,766.7 778.8,753.02 779.52,806.01 780.13,840.2 780.49,848.75 788.85,848.75 789.21,806.01 789.82,771.83 790.12,780.37 790.42,773.54 790.73,783.79 791.03,771.83 791.33,778.66 791.64,770.12 791.94,776.96 792.42,771.83 792.85,763.28 793.45,742.77 794.06,797.47 794.66,835.07 794.97,848.75 803.33,848.75 803.75,806.01 804.36,759.86 804.84,739.35 805.26,754.73 805.57,766.7 805.99,771.83 806.29,763.28 806.66,773.54 807.08,766.7 807.51,776.96 808.05,756.44 808.35,780.37 808.9,806.01 809.38,835.07 809.75,848.75 817.56,848.75 817.98,797.47 818.41,759.86 818.77,739.35 819.2,749.6 819.62,754.73 820.1,751.31 820.47,754.73 820.71,780.37 821.01,763.28 821.44,759.86 821.92,771.83 822.53,794.05 823.13,823.11 823.62,843.62 823.86,848.75 831.49,848.75 831.92,797.47 832.34,766.7 832.7,770.12 833.13,754.73 833.73,742.77 834.4,734.22 834.76,746.19 835.13,742.77 835.55,771.83 835.97,800.89 836.58,835.07 837.06,814.56 837.97,771.83 838.58,828.24 839.06,848.75 846.82,848.75 847.36,797.47 847.97,759.86 848.57,739.35 848.94,746.19 849.36,741.06 849.78,746.19 850.21,739.35 850.69,749.6 851.3,766.7 851.9,788.92 852.51,814.56 853.11,838.49 853.6,848.75 857.05,848.75" fill="none" stroke="#dc1616" stroke-width="1.2" stroke-linejoin="round" stroke-linecap="round"/>
<polyline points="639,848.41 639.3,848.41 639.61,848.41 639.91,848.41 640.21,848.41 640.51,848.41 640.82,848.41 641.12,847.53 641.42,844.02 641.73,837.97 642.03,829.63 642.33,819.37 642.63,807.61 642.94,794.86 643.24,781.66 643.54,768.57 643.85,756.15 644.15,744.93 644.45,735.39 644.75,727.93 645.06,722.87 645.36,720.42 645.66,720.66 645.97,723.42 646.27,728.58 646.57,735.94 646.87,745.2 647.18,756 647.48,767.92 647.78,780.48 648.09,793.2 648.39,805.56 648.69,817.09 648.99,827.32 649.3,835.86 649.6,842.37 649.9,846.59 650.21,848.36 650.51,848.41 650.81,848.41 651.11,848.41 651.42,848.41 651.72,848.41 652.02,848.41 652.33,848.41 652.63,848.41 652.93,848.41 653.23,848.41 653.54,848.41 653.84,848.41 654.14,848.41 654.45,848.41 654.75,848.41 655.05,848.41 655.35,848.41 655.66,847.53 655.96,844.02 656.26,837.97 656.57,829.63 656.87,819.37 657.17,807.61 657.47,794.86 657.78,781.66 658.08,768.57 658.38,756.15 658.69,744.93 658.99,735.39 659.29,727.93 659.59,722.87 659.9,720.42 660.2,720.66 660.5,723.42 660.81,728.58 661.11,735.94 661.41,745.2 661.71,756 662.02,767.92 662.32,780.48 662.62,793.2 662.93,805.56 663.23,817.09 663.53,827.32 663.83,835.86 664.14,842.37 664.44,846.59 664.74,848.36 665.05,848.41 665.35,848.41 665.65,848.41 665.95,848.41 666.26,848.41 666.56,848.41 666.86,848.41 667.17,848.41 667.47,848.41 667.77,848.41 668.07,848.41 668.38,848.41 668.68,848.41 668.98,848.41 669.28,848.41 669.59,848.41 669.89,848.41 670.19,847.53 670.5,844.02 670.8,837.97 671.1,829.63 671.4,819.37 671.71,807.61 672.01,794.86 672.31,781.66 672.62,768.57 672.92,756.15 673.22,744.93 673.52,735.39 673.83,727.93 674.13,722.87 674.43,720.42 674.74,720.66 675.04,723.42 675.34,728.58 675.64,735.94 675.95,745.2 676.25,756 676.55,767.92 676.86,780.48 677.16,793.2 677.46,805.56 677.76,817.09 678.07,827.32 678.37,835.86 678.67,842.37 678.98,846.59 679.28,848.36 679.58,848.41 679.88,848.41 680.19,848.41 680.49,848.41 680.79,848.41 681.1,848.41 681.4,848.41 681.7,848.41 682,848.41 682.31,848.41 682.61,848.41 682.91,848.41 683.22,848.41 683.52,848.41 683.82,848.41 684.12,848.41 684.43,848.41 684.73,847.53 685.03,844.02 685.34,837.97 685.64,829.63 685.94,819.37 686.24,807.61 686.55,794.86 686.85,781.66 687.15,768.57 687.46,756.15 687.76,744.93 688.06,735.39 688.36,727.93 688.67,722.87 688.97,720.42 689.27,720.66 689.58,723.42 689.88,728.58 690.18,735.94 690.48,745.2 690.79,756 691.09,767.92 691.39,780.48 691.7,793.2 692,805.56 692.3,817.09 692.6,827.32 692.91,835.86 693.21,842.37 693.51,846.59 693.82,848.36 694.12,848.41 694.42,848.41 694.72,848.41 695.03,848.41 695.33,848.41 695.63,848.41 695.94,848.41 696.24,848.41 696.54,848.41 696.84,848.41 697.15,848.41 697.45,848.41 697.75,848.41 698.06,848.41 698.36,848.41 698.66,848.41 698.96,848.41 699.27,847.53 699.57,844.02 699.87,837.97 700.18,829.63 700.48,819.37 700.78,807.61 701.08,794.86 701.39,781.66 701.69,768.57 701.99,756.15 702.3,744.93 702.6,735.39 702.9,727.93 703.2,722.87 703.51,720.42 703.81,720.66 704.11,723.42 704.42,728.58 704.72,735.94 705.02,745.2 705.32,756 705.63,767.92 705.93,780.48 706.23,793.2 706.54,805.56 706.84,817.09 707.14,827.32 707.44,835.86 707.75,842.37 708.05,846.59 708.35,848.36 708.66,848.41 708.96,848.41 709.26,848.41 709.56,848.41 709.87,848.41 710.17,848.41 710.47,848.41 710.78,848.41 711.08,848.41 711.38,848.41 711.68,848.41 711.99,848.41 712.29,848.41 712.59,848.41 712.9,848.41 713.2,848.41 713.5,848.41 713.8,847.53 714.11,844.02 714.41,837.97 714.71,829.63 715.02,819.37 715.32,807.61 715.62,794.86 715.92,781.66 716.23,768.57 716.53,756.15 716.83,744.93 717.14,735.39 717.44,727.93 717.74,722.87 718.04,720.42 718.35,720.66 718.65,723.42 718.95,728.58 719.26,735.94 719.56,745.2 719.86,756 720.16,767.92 720.47,780.48 720.77,793.2 721.07,805.56 721.38,817.09 721.68,827.32 721.98,835.86 722.28,842.37 722.59,846.59 722.89,848.36 723.19,848.41 723.5,848.41 723.8,848.41 724.1,848.41 724.4,848.41 724.71,848.41 725.01,848.41 725.31,848.41 725.62,848.41 725.92,848.41 726.22,848.41 726.52,848.41 726.83,848.41 727.13,848.41 727.43,848.41 727.74,848.41 728.04,848.41 728.34,847.53 728.64,844.02 728.95,837.97 729.25,829.63 729.55,819.37 729.86,807.61 730.16,794.86 730.46,781.66 730.76,768.57 731.07,756.15 731.37,744.93 731.67,735.39 731.97,727.93 732.28,722.87 732.58,720.42 732.88,720.66 733.19,723.42 733.49,728.58 733.79,735.94 734.09,745.2 734.4,756 734.7,767.92 735,780.48 735.31,793.2 735.61,805.56 735.91,817.09 736.21,827.32 736.52,835.86 736.82,842.37 737.12,846.59 737.43,848.36 737.73,848.41 738.03,848.41 738.33,848.41 738.64,848.41 738.94,848.41 739.24,848.41 739.55,848.41 739.85,848.41 740.15,848.41 740.45,848.41 740.76,848.41 741.06,848.41 741.36,848.41 741.67,848.41 741.97,848.41 742.27,848.41 742.57,848.41 742.88,847.53 743.18,844.02 743.48,837.97 743.79,829.63 744.09,819.37 744.39,807.61 744.69,794.86 745,781.66 745.3,768.57 745.6,756.15 745.91,744.93 746.21,735.39 746.51,727.93 746.81,722.87 747.12,720.42 747.42,720.66 747.72,723.42 748.03,728.58 748.33,735.94 748.63,745.2 748.93,756 749.24,767.92 749.54,780.48 749.84,793.2 750.15,805.56 750.45,817.09 750.75,827.32 751.05,835.86 751.36,842.37 751.66,846.59 751.96,848.36 752.27,848.41 752.57,848.41 752.87,848.41 753.17,848.41 753.48,848.41 753.78,848.41 754.08,848.41 754.39,848.41 754.69,848.41 754.99,848.41 755.29,848.41 755.6,848.41 755.9,848.41 756.2,848.41 756.51,848.41 756.81,848.41 757.11,848.41 757.41,847.53 757.72,844.02 758.02,837.97 758.32,829.63 758.63,819.37 758.93,807.61 759.23,794.86 759.53,781.66 759.84,768.57 760.14,756.15 760.44,744.93 760.75,735.39 761.05,727.93 761.35,722.87 761.65,720.42 761.96,720.66 762.26,723.42 762.56,728.58 762.87,735.94 763.17,745.2 763.47,756 763.77,767.92 764.08,780.48 764.38,793.2 764.68,805.56 764.99,817.09 765.29,827.32 765.59,835.86 765.89,842.37 766.2,846.59 766.5,848.36 766.8,848.41 767.11,848.41 767.41,848.41 767.71,848.41 768.01,848.41 768.32,848.41 768.62,848.41 768.92,848.41 769.23,848.41 769.53,848.41 769.83,848.41 770.13,848.41 770.44,848.41 770.74,848.41 771.04,848.41 771.35,848.41 771.65,848.41 771.95,847.53 772.25,844.02 772.56,837.97 772.86,829.63 773.16,819.37 773.47,807.61 773.77,794.86 774.07,781.66 774.37,768.57 774.68,756.15 774.98,744.93 775.28,735.39 775.59,727.93 775.89,722.87 776.19,720.42 776.49,720.66 776.8,723.42 777.1,728.58 777.4,735.94 777.71,745.2 778.01,756 778.31,767.92 778.61,780.48 778.92,793.2 779.22,805.56 779.52,817.09 779.83,827.32 780.13,835.86 780.43,842.37 780.73,846.59 781.04,848.36 781.34,848.41 781.64,848.41 781.95,848.41 782.25,848.41 782.55,848.41 782.85,848.41 783.16,848.41 783.46,848.41 783.76,848.41 784.07,848.41 784.37,848.41 784.67,848.41 784.97,848.41 785.28,848.41 785.58,848.41 785.88,848.41 786.19,848.41 786.49,847.53 786.79,844.02 787.09,837.97 787.4,829.63 787.7,819.37 788,807.61 788.31,794.86 788.61,781.66 788.91,768.57 789.21,756.15 789.52,744.93 789.82,735.39 790.12,727.93 790.42,722.87 790.73,720.42 791.03,720.66 791.33,723.42 791.64,728.58 791.94,735.94 792.24,745.2 792.54,756 792.85,767.92 793.15,780.48 793.45,793.2 793.76,805.56 794.06,817.09 794.36,827.32 794.66,835.86 794.97,842.37 795.27,846.59 795.57,848.36 795.88,848.41 796.18,848.41 796.48,848.41 796.78,848.41 797.09,848.41 797.39,848.41 797.69,848.41 798,848.41 798.3,848.41 798.6,848.41 798.9,848.41 799.21,848.41 799.51,848.41 799.81,848.41 800.12,848.41 800.42,848.41 800.72,848.41 801.02,847.53 801.33,844.02 801.63,837.97 801.93,829.63 802.24,819.37 802.54,807.61 802.84,794.86 803.14,781.66 803.45,768.57 803.75,756.15 804.05,744.93 804.36,735.39 804.66,727.93 804.96,722.87 805.26,720.42 805.57,720.66 805.87,723.42 806.17,728.58 806.48,735.94 806.78,745.2 807.08,756 807.38,767.92 807.69,780.48 807.99,793.2 808.29,805.56 808.6,817.09 808.9,827.32 809.2,835.86 809.5,842.37 809.81,846.59 810.11,848.36 810.41,848.41 810.72,848.41 811.02,848.41 811.32,848.41 811.62,848.41 811.93,848.41 812.23,848.41 812.53,848.41 812.84,848.41 813.14,848.41 813.44,848.41 813.74,848.41 814.05,848.41 814.35,848.41 814.65,848.41 814.96,848.41 815.26,848.41 815.56,847.53 815.86,844.02 816.17,837.97 816.47,829.63 816.77,819.37 817.08,807.61 817.38,794.86 817.68,781.66 817.98,768.57 818.29,756.15 818.59,744.93 818.89,735.39 819.2,727.93 819.5,722.87 819.8,720.42 820.1,720.66 820.41,723.42 820.71,728.58 821.01,735.94 821.32,745.2 821.62,756 821.92,767.92 822.22,780.48 822.53,793.2 822.83,805.56 823.13,817.09 823.44,827.32 823.74,835.86 824.04,842.37 824.34,846.59 824.65,848.36 824.95,848.41 825.25,848.41 825.56,848.41 825.86,848.41 826.16,848.41 826.46,848.41 826.77,848.41 827.07,848.41 827.37,848.41 827.68,848.41 827.98,848.41 828.28,848.41 828.58,848.41 828.89,848.41 829.19,848.41 829.49,848.41 829.8,848.41 830.1,847.53 830.4,844.02 830.7,837.97 831.01,829.63 831.31,819.37 831.61,807.61 831.92,794.86 832.22,781.66 832.52,768.57 832.82,756.15 833.13,744.93 833.43,735.39 833.73,727.93 834.04,722.87 834.34,720.42 834.64,720.66 834.94,723.42 835.25,728.58 835.55,735.94 835.85,745.2 836.16,756 836.46,767.92 836.76,780.48 837.06,793.2 837.37,805.56 837.67,817.09 837.97,827.32 838.28,835.86 838.58,842.37 838.88,846.59 839.18,848.36 839.49,848.41 839.79,848.41 840.09,848.41 840.4,848.41 840.7,848.41 841,848.41 841.3,848.41 841.61,848.41 841.91,848.41 842.21,848.41 842.52,848.41 842.82,848.41 843.12,848.41 843.42,848.41 843.73,848.41 844.03,848.41 844.33,848.41 844.64,847.53 844.94,844.02 845.24,837.97 845.54,829.63 845.85,819.37 846.15,807.61 846.45,794.86 846.76,781.66 847.06,768.57 847.36,756.15 847.66,744.93 847.97,735.39 848.27,727.93 848.57,722.87 848.88,720.42 849.18,720.66 849.48,723.42 849.78,728.58 850.09,735.94 850.39,745.2 850.69,756 851,767.92 851.3,780.48 851.6,793.2 851.9,805.56 852.21,817.09 852.51,827.32 852.81,835.86 853.11,842.37 853.42,846.59 853.72,848.36 854.02,848.41 854.33,848.41 854.63,848.41 854.93,848.41 855.23,848.41 855.54,848.41 855.84,848.41 856.14,848.41 856.45,848.41 856.75,848.41 857.05,848.41" fill="none" stroke="#2020e0" stroke-width="1.35" stroke-linejoin="round" stroke-linecap="round"/>
<rect x="628" y="701.5" width="240.75" height="154" fill="none" stroke="#3c3c3c" stroke-width="0.9"/>
<rect x="858.25" y="705.3" width="6.5" height="5.5" rx="1.2" fill="none" stroke="#d8d8d8" stroke-width="0.8"/>
<path d="M639 855.5v2.6 M669.28 855.5v2.6 M699.57 855.5v2.6 M729.86 855.5v2.6 M760.14 855.5v2.6 M790.42 855.5v2.6 M820.71 855.5v2.6 M851 855.5v2.6 M628 848.75h-2.6 M628 814.56h-2.6 M628 780.37h-2.6 M628 746.19h-2.6 M628 712h-2.6" stroke="#3c3c3c" stroke-width="1"/></g>
</g>
<g filter="url(#bt)">
<text transform="translate(64,188) scale(0.92,1.12)" text-anchor="middle" font-size="8.0">0</text>
<text transform="translate(116.1,188) scale(0.92,1.12)" text-anchor="middle" font-size="8.0">5</text>
<text transform="translate(168.2,188) scale(0.92,1.12)" text-anchor="middle" font-size="8.0">10</text>
<text transform="translate(220.3,188) scale(0.92,1.12)" text-anchor="middle" font-size="8.0">15</text>
<text transform="translate(272.4,188) scale(0.92,1.12)" text-anchor="middle" font-size="8.0">20</text>
<text transform="translate(45.55,173.73) scale(0.92,1.12)" text-anchor="end" font-size="8.0">0</text>
<text transform="translate(45.55,152.6) scale(0.92,1.12)" text-anchor="end" font-size="8.0">10</text>
<text transform="translate(45.55,131.48) scale(0.92,1.12)" text-anchor="end" font-size="8.0">20</text>
<text transform="translate(45.55,110.35) scale(0.92,1.12)" text-anchor="end" font-size="8.0">30</text>
<text transform="translate(45.55,89.23) scale(0.92,1.12)" text-anchor="end" font-size="8.0">40</text>
<text transform="translate(45.55,68.1) scale(0.92,1.12)" text-anchor="end" font-size="8.0">50</text>
<text transform="translate(45.55,46.98) scale(0.92,1.12)" text-anchor="end" font-size="8.0">60</text>
<text x="153" y="22.7" font-size="9.1" textLength="61.2" lengthAdjust="spacingAndGlyphs">ARIMA Model</text>
<text x="151.25" y="198.3" font-size="7.9" textLength="65" lengthAdjust="spacingAndGlyphs">24 hours / 1 Day</text>
<text transform="translate(31.34,133.75) rotate(-90)" x="0" y="0" font-size="7.2" textLength="61.25" lengthAdjust="spacingAndGlyphs">solar power(KWh)</text>
<text transform="translate(371.75,187) scale(0.92,1.12)" text-anchor="middle" font-size="7.6">0</text>
<text transform="translate(421.12,187) scale(0.92,1.12)" text-anchor="middle" font-size="7.6">5</text>
<text transform="translate(470.5,187) scale(0.92,1.12)" text-anchor="middle" font-size="7.6">10</text>
<text transform="translate(519.88,187) scale(0.92,1.12)" text-anchor="middle" font-size="7.6">15</text>
<text transform="translate(569.25,187) scale(0.92,1.12)" text-anchor="middle" font-size="7.6">20</text>
<text transform="translate(355.35,173.06) scale(0.92,1.12)" text-anchor="end" font-size="7.6">0</text>
<text transform="translate(355.35,152.02) scale(0.92,1.12)" text-anchor="end" font-size="7.6">10</text>
<text transform="translate(355.35,130.98) scale(0.92,1.12)" text-anchor="end" font-size="7.6">20</text>
<text transform="translate(355.35,109.94) scale(0.92,1.12)" text-anchor="end" font-size="7.6">30</text>
<text transform="translate(355.35,88.9) scale(0.92,1.12)" text-anchor="end" font-size="7.6">40</text>
<text transform="translate(355.35,67.86) scale(0.92,1.12)" text-anchor="end" font-size="7.6">50</text>
<text transform="translate(355.35,46.82) scale(0.92,1.12)" text-anchor="end" font-size="7.6">60</text>
<text x="457.5" y="23" font-size="8.5" textLength="45" lengthAdjust="spacingAndGlyphs">SVR Model</text>
<text x="450.75" y="197.3" font-size="7.1" textLength="58.5" lengthAdjust="spacingAndGlyphs">24 Hours / 1 day</text>
<text transform="translate(342.09,135) rotate(-90)" x="0" y="0" font-size="7.2" textLength="62.5" lengthAdjust="spacingAndGlyphs">Solar Power (kWh)</text>
<text transform="translate(648.25,180) scale(0.92,1.12)" text-anchor="middle" font-size="7.2">0</text>
<text transform="translate(691.3,180) scale(0.92,1.12)" text-anchor="middle" font-size="7.2">5</text>
<text transform="translate(734.35,180) scale(0.92,1.12)" text-anchor="middle" font-size="7.2">10</text>
<text transform="translate(777.4,180) scale(0.92,1.12)" text-anchor="middle" font-size="7.2">15</text>
<text transform="translate(820.45,180) scale(0.92,1.12)" text-anchor="middle" font-size="7.2">20</text>
<text transform="translate(632.45,166.65) scale(0.92,1.12)" text-anchor="end" font-size="7.2">0</text>
<text transform="translate(632.45,146.45) scale(0.92,1.12)" text-anchor="end" font-size="7.2">10</text>
<text transform="translate(632.45,126.25) scale(0.92,1.12)" text-anchor="end" font-size="7.2">20</text>
<text transform="translate(632.45,106.05) scale(0.92,1.12)" text-anchor="end" font-size="7.2">30</text>
<text transform="translate(632.45,85.85) scale(0.92,1.12)" text-anchor="end" font-size="7.2">40</text>
<text transform="translate(632.45,65.65) scale(0.92,1.12)" text-anchor="end" font-size="7.2">50</text>
<text transform="translate(632.45,45.45) scale(0.92,1.12)" text-anchor="end" font-size="7.2">60</text>
<text x="699.5" y="22.2" font-size="8.1" textLength="95" lengthAdjust="spacingAndGlyphs">LSTM - Univariate Model</text>
<text x="720.25" y="190" font-size="6.7" textLength="54" lengthAdjust="spacingAndGlyphs">24 Hours / 1 day</text>
<text transform="translate(619.88,138.75) rotate(-90)" x="0" y="0" font-size="6.6" textLength="80" lengthAdjust="spacingAndGlyphs">Power production (KWh)</text>
<text transform="translate(45.25,411.2) scale(0.92,1.12)" text-anchor="middle" font-size="7.6">0</text>
<text transform="translate(76.11,411.2) scale(0.92,1.12)" text-anchor="middle" font-size="7.6">10</text>
<text transform="translate(106.97,411.2) scale(0.92,1.12)" text-anchor="middle" font-size="7.6">20</text>
<text transform="translate(137.83,411.2) scale(0.92,1.12)" text-anchor="middle" font-size="7.6">30</text>
<text transform="translate(168.69,411.2) scale(0.92,1.12)" text-anchor="middle" font-size="7.6">40</text>
<text transform="translate(199.55,411.2) scale(0.92,1.12)" text-anchor="middle" font-size="7.6">50</text>
<text transform="translate(230.41,411.2) scale(0.92,1.12)" text-anchor="middle" font-size="7.6">60</text>
<text transform="translate(261.27,411.2) scale(0.92,1.12)" text-anchor="middle" font-size="7.6">70</text>
<text transform="translate(28.65,398.06) scale(0.92,1.12)" text-anchor="end" font-size="7.6">0</text>
<text transform="translate(28.65,379.74) scale(0.92,1.12)" text-anchor="end" font-size="7.6">10</text>
<text transform="translate(28.65,361.42) scale(0.92,1.12)" text-anchor="end" font-size="7.6">20</text>
<text transform="translate(28.65,343.1) scale(0.92,1.12)" text-anchor="end" font-size="7.6">30</text>
<text transform="translate(28.65,324.78) scale(0.92,1.12)" text-anchor="end" font-size="7.6">40</text>
<text transform="translate(28.65,306.46) scale(0.92,1.12)" text-anchor="end" font-size="7.6">50</text>
<text transform="translate(28.65,288.14) scale(0.92,1.12)" text-anchor="end" font-size="7.6">60</text>
<text transform="translate(28.65,269.82) scale(0.92,1.12)" text-anchor="end" font-size="7.6">70</text>
<text x="126.25" y="261.2" font-size="8.5" textLength="56.25" lengthAdjust="spacingAndGlyphs">ARIMA Model</text>
<text x="123" y="420.4" font-size="7.5" textLength="63.25" lengthAdjust="spacingAndGlyphs">72 hours / 3 Days</text>
<text transform="translate(15.02,362.5) rotate(-90)" x="0" y="0" font-size="7.0" textLength="57.5" lengthAdjust="spacingAndGlyphs">solar power(KWh)</text>
<text transform="translate(341.5,410.4) scale(0.92,1.12)" text-anchor="middle" font-size="7.6">0</text>
<text transform="translate(373.96,410.4) scale(0.92,1.12)" text-anchor="middle" font-size="7.6">10</text>
<text transform="translate(406.42,410.4) scale(0.92,1.12)" text-anchor="middle" font-size="7.6">20</text>
<text transform="translate(438.88,410.4) scale(0.92,1.12)" text-anchor="middle" font-size="7.6">30</text>
<text transform="translate(471.34,410.4) scale(0.92,1.12)" text-anchor="middle" font-size="7.6">40</text>
<text transform="translate(503.8,410.4) scale(0.92,1.12)" text-anchor="middle" font-size="7.6">50</text>
<text transform="translate(536.26,410.4) scale(0.92,1.12)" text-anchor="middle" font-size="7.6">60</text>
<text transform="translate(568.72,410.4) scale(0.92,1.12)" text-anchor="middle" font-size="7.6">70</text>
<text transform="translate(323.4,396.81) scale(0.92,1.12)" text-anchor="end" font-size="7.6">0</text>
<text transform="translate(323.4,378.71) scale(0.92,1.12)" text-anchor="end" font-size="7.6">10</text>
<text transform="translate(323.4,360.61) scale(0.92,1.12)" text-anchor="end" font-size="7.6">20</text>
<text transform="translate(323.4,342.51) scale(0.92,1.12)" text-anchor="end" font-size="7.6">30</text>
<text transform="translate(323.4,324.41) scale(0.92,1.12)" text-anchor="end" font-size="7.6">40</text>
<text transform="translate(323.4,306.31) scale(0.92,1.12)" text-anchor="end" font-size="7.6">50</text>
<text transform="translate(323.4,288.21) scale(0.92,1.12)" text-anchor="end" font-size="7.6">60</text>
<text transform="translate(323.4,270.11) scale(0.92,1.12)" text-anchor="end" font-size="7.6">70</text>
<text x="433" y="261.2" font-size="8.9" textLength="49.5" lengthAdjust="spacingAndGlyphs">SVR Model</text>
<text x="425" y="420" font-size="6.9" textLength="66.25" lengthAdjust="spacingAndGlyphs">72 hours / 3 days</text>
<text transform="translate(309.02,362.5) rotate(-90)" x="0" y="0" font-size="7.0" textLength="58" lengthAdjust="spacingAndGlyphs">Solar Power (kWh)</text>
<text transform="translate(646,418.5) scale(0.92,1.12)" text-anchor="middle" font-size="7.8">0</text>
<text transform="translate(675.39,418.5) scale(0.92,1.12)" text-anchor="middle" font-size="7.8">10</text>
<text transform="translate(704.78,418.5) scale(0.92,1.12)" text-anchor="middle" font-size="7.8">20</text>
<text transform="translate(734.17,418.5) scale(0.92,1.12)" text-anchor="middle" font-size="7.8">30</text>
<text transform="translate(763.56,418.5) scale(0.92,1.12)" text-anchor="middle" font-size="7.8">40</text>
<text transform="translate(792.95,418.5) scale(0.92,1.12)" text-anchor="middle" font-size="7.8">50</text>
<text transform="translate(822.34,418.5) scale(0.92,1.12)" text-anchor="middle" font-size="7.8">60</text>
<text transform="translate(851.73,418.5) scale(0.92,1.12)" text-anchor="middle" font-size="7.8">70</text>
<text transform="translate(629.65,404.64) scale(0.92,1.12)" text-anchor="end" font-size="7.8">0</text>
<text transform="translate(629.65,385.5) scale(0.92,1.12)" text-anchor="end" font-size="7.8">10</text>
<text transform="translate(629.65,366.36) scale(0.92,1.12)" text-anchor="end" font-size="7.8">20</text>
<text transform="translate(629.65,347.22) scale(0.92,1.12)" text-anchor="end" font-size="7.8">30</text>
<text transform="translate(629.65,328.08) scale(0.92,1.12)" text-anchor="end" font-size="7.8">40</text>
<text transform="translate(629.65,308.94) scale(0.92,1.12)" text-anchor="end" font-size="7.8">50</text>
<text transform="translate(629.65,289.8) scale(0.92,1.12)" text-anchor="end" font-size="7.8">60</text>
<text transform="translate(629.65,270.66) scale(0.92,1.12)" text-anchor="end" font-size="7.8">70</text>
<text x="699.5" y="262" font-size="8.5" textLength="100" lengthAdjust="spacingAndGlyphs">LSTM - Univariate Model</text>
<text x="719.5" y="428.6" font-size="7.5" textLength="61.25" lengthAdjust="spacingAndGlyphs">72 Hours / 3 Days</text>
<text transform="translate(617.69,367) rotate(-90)" x="0" y="0" font-size="7.2" textLength="58.25" lengthAdjust="spacingAndGlyphs">Solar Power(kWh)</text>
<text transform="translate(47,618.55) scale(0.92,1.12)" text-anchor="middle" font-size="7.6">0</text>
<text transform="translate(83.62,618.55) scale(0.92,1.12)" text-anchor="middle" font-size="7.6">20</text>
<text transform="translate(120.24,618.55) scale(0.92,1.12)" text-anchor="middle" font-size="7.6">40</text>
<text transform="translate(156.86,618.55) scale(0.92,1.12)" text-anchor="middle" font-size="7.6">60</text>
<text transform="translate(193.48,618.55) scale(0.92,1.12)" text-anchor="middle" font-size="7.6">80</text>
<text transform="translate(230.1,618.55) scale(0.92,1.12)" text-anchor="middle" font-size="7.6">100</text>
<text transform="translate(266.72,618.55) scale(0.92,1.12)" text-anchor="middle" font-size="7.6">120</text>
<text transform="translate(30.45,606.06) scale(0.92,1.12)" text-anchor="end" font-size="7.6">0</text>
<text transform="translate(30.45,588.02) scale(0.92,1.12)" text-anchor="end" font-size="7.6">10</text>
<text transform="translate(30.45,569.98) scale(0.92,1.12)" text-anchor="end" font-size="7.6">20</text>
<text transform="translate(30.45,551.94) scale(0.92,1.12)" text-anchor="end" font-size="7.6">30</text>
<text transform="translate(30.45,533.9) scale(0.92,1.12)" text-anchor="end" font-size="7.6">40</text>
<text transform="translate(30.45,515.86) scale(0.92,1.12)" text-anchor="end" font-size="7.6">50</text>
<text transform="translate(30.45,497.82) scale(0.92,1.12)" text-anchor="end" font-size="7.6">60</text>
<text transform="translate(30.45,479.78) scale(0.92,1.12)" text-anchor="end" font-size="7.6">70</text>
<text x="127.5" y="471.2" font-size="8.5" textLength="56.25" lengthAdjust="spacingAndGlyphs">ARIMA Model</text>
<text x="122" y="628" font-size="7.5" textLength="67.5" lengthAdjust="spacingAndGlyphs">120 hours / 5 Days</text>
<text transform="translate(17.12,570) rotate(-90)" x="0" y="0" font-size="7.0" textLength="54.5" lengthAdjust="spacingAndGlyphs">solar power(KWh)</text>
<text transform="translate(352.75,631.6) scale(0.92,1.12)" text-anchor="middle" font-size="7.0">0</text>
<text transform="translate(386.5,631.6) scale(0.92,1.12)" text-anchor="middle" font-size="7.0">20</text>
<text transform="translate(420.25,631.6) scale(0.92,1.12)" text-anchor="middle" font-size="7.0">40</text>
<text transform="translate(454,631.6) scale(0.92,1.12)" text-anchor="middle" font-size="7.0">60</text>
<text transform="translate(487.75,631.6) scale(0.92,1.12)" text-anchor="middle" font-size="7.0">80</text>
<text transform="translate(521.5,631.6) scale(0.92,1.12)" text-anchor="middle" font-size="7.0">100</text>
<text transform="translate(555.25,631.6) scale(0.92,1.12)" text-anchor="middle" font-size="7.0">120</text>
<text transform="translate(336.75,618.32) scale(0.92,1.12)" text-anchor="end" font-size="7.0">0</text>
<text transform="translate(336.75,599.68) scale(0.92,1.12)" text-anchor="end" font-size="7.0">10</text>
<text transform="translate(336.75,581.04) scale(0.92,1.12)" text-anchor="end" font-size="7.0">20</text>
<text transform="translate(336.75,562.4) scale(0.92,1.12)" text-anchor="end" font-size="7.0">30</text>
<text transform="translate(336.75,543.76) scale(0.92,1.12)" text-anchor="end" font-size="7.0">40</text>
<text transform="translate(336.75,525.12) scale(0.92,1.12)" text-anchor="end" font-size="7.0">50</text>
<text transform="translate(336.75,506.48) scale(0.92,1.12)" text-anchor="end" font-size="7.0">60</text>
<text transform="translate(336.75,487.84) scale(0.92,1.12)" text-anchor="end" font-size="7.0">70</text>
<text x="432" y="478.8" font-size="8.0" textLength="43" lengthAdjust="spacingAndGlyphs">SVR Model</text>
<text x="423" y="640.3" font-size="6.5" textLength="62" lengthAdjust="spacingAndGlyphs">120 hours / 5 days</text>
<text transform="translate(325.42,582.5) rotate(-90)" x="0" y="0" font-size="7.0" textLength="58.75" lengthAdjust="spacingAndGlyphs">Solar Power (kWh)</text>
<text transform="translate(636.25,623.3) scale(0.92,1.12)" text-anchor="middle" font-size="7.8">0</text>
<text transform="translate(673.75,623.3) scale(0.92,1.12)" text-anchor="middle" font-size="7.8">20</text>
<text transform="translate(711.25,623.3) scale(0.92,1.12)" text-anchor="middle" font-size="7.8">40</text>
<text transform="translate(748.75,623.3) scale(0.92,1.12)" text-anchor="middle" font-size="7.8">60</text>
<text transform="translate(786.25,623.3) scale(0.92,1.12)" text-anchor="middle" font-size="7.8">80</text>
<text transform="translate(823.75,623.3) scale(0.92,1.12)" text-anchor="middle" font-size="7.8">100</text>
<text transform="translate(861.25,623.3) scale(0.92,1.12)" text-anchor="middle" font-size="7.8">120</text>
<text transform="translate(618.9,611.14) scale(0.92,1.12)" text-anchor="end" font-size="7.8">0</text>
<text transform="translate(618.9,593.39) scale(0.92,1.12)" text-anchor="end" font-size="7.8">10</text>
<text transform="translate(618.9,575.64) scale(0.92,1.12)" text-anchor="end" font-size="7.8">20</text>
<text transform="translate(618.9,557.89) scale(0.92,1.12)" text-anchor="end" font-size="7.8">30</text>
<text transform="translate(618.9,540.14) scale(0.92,1.12)" text-anchor="end" font-size="7.8">40</text>
<text transform="translate(618.9,522.39) scale(0.92,1.12)" text-anchor="end" font-size="7.8">50</text>
<text transform="translate(618.9,504.64) scale(0.92,1.12)" text-anchor="end" font-size="7.8">60</text>
<text transform="translate(618.9,486.89) scale(0.92,1.12)" text-anchor="end" font-size="7.8">70</text>
<text x="693.5" y="478.3" font-size="8.9" textLength="107.5" lengthAdjust="spacingAndGlyphs">LSTM - Univariate Model</text>
<text x="713.5" y="632.4" font-size="7.5" textLength="69.5" lengthAdjust="spacingAndGlyphs">120 Hours / 5 Days</text>
<text transform="translate(605.62,575) rotate(-90)" x="0" y="0" font-size="7.0" textLength="53.75" lengthAdjust="spacingAndGlyphs">Solar Power(KWh)</text>
<text transform="translate(60.5,860.1) scale(0.92,1.12)" text-anchor="middle" font-size="7.6">0</text>
<text transform="translate(89.9,860.1) scale(0.92,1.12)" text-anchor="middle" font-size="7.6">50</text>
<text transform="translate(119.3,860.1) scale(0.92,1.12)" text-anchor="middle" font-size="7.6">100</text>
<text transform="translate(148.7,860.1) scale(0.92,1.12)" text-anchor="middle" font-size="7.6">150</text>
<text transform="translate(178.1,860.1) scale(0.92,1.12)" text-anchor="middle" font-size="7.6">200</text>
<text transform="translate(207.5,860.1) scale(0.92,1.12)" text-anchor="middle" font-size="7.6">250</text>
<text transform="translate(236.9,860.1) scale(0.92,1.12)" text-anchor="middle" font-size="7.6">300</text>
<text transform="translate(266.3,860.1) scale(0.92,1.12)" text-anchor="middle" font-size="7.6">350</text>
<text transform="translate(44.7,846.06) scale(0.92,1.12)" text-anchor="end" font-size="7.6">0</text>
<text transform="translate(44.7,813.26) scale(0.92,1.12)" text-anchor="end" font-size="7.6">20</text>
<text transform="translate(44.7,780.46) scale(0.92,1.12)" text-anchor="end" font-size="7.6">40</text>
<text transform="translate(44.7,747.66) scale(0.92,1.12)" text-anchor="end" font-size="7.6">60</text>
<text transform="translate(44.7,714.86) scale(0.92,1.12)" text-anchor="end" font-size="7.6">80</text>
<text x="138.75" y="698" font-size="8.4" textLength="54.25" lengthAdjust="spacingAndGlyphs">ARIMA Model</text>
<text x="131.25" y="870" font-size="7.5" textLength="70" lengthAdjust="spacingAndGlyphs">360 hours / 15 Days</text>
<text transform="translate(31.99,806.25) rotate(-90)" x="0" y="0" font-size="7.2" textLength="60" lengthAdjust="spacingAndGlyphs">solar power(KWh)</text>
<text transform="translate(333.25,858.4) scale(0.92,1.12)" text-anchor="middle" font-size="7.8">0</text>
<text transform="translate(366.35,858.4) scale(0.92,1.12)" text-anchor="middle" font-size="7.8">50</text>
<text transform="translate(399.45,858.4) scale(0.92,1.12)" text-anchor="middle" font-size="7.8">100</text>
<text transform="translate(432.55,858.4) scale(0.92,1.12)" text-anchor="middle" font-size="7.8">150</text>
<text transform="translate(465.65,858.4) scale(0.92,1.12)" text-anchor="middle" font-size="7.8">200</text>
<text transform="translate(498.75,858.4) scale(0.92,1.12)" text-anchor="middle" font-size="7.8">250</text>
<text transform="translate(531.85,858.4) scale(0.92,1.12)" text-anchor="middle" font-size="7.8">300</text>
<text transform="translate(564.95,858.4) scale(0.92,1.12)" text-anchor="middle" font-size="7.8">350</text>
<text transform="translate(315.45,841.14) scale(0.92,1.12)" text-anchor="end" font-size="7.8">0</text>
<text transform="translate(315.45,809.26) scale(0.92,1.12)" text-anchor="end" font-size="7.8">20</text>
<text transform="translate(315.45,777.38) scale(0.92,1.12)" text-anchor="end" font-size="7.8">40</text>
<text transform="translate(315.45,745.5) scale(0.92,1.12)" text-anchor="end" font-size="7.8">60</text>
<text transform="translate(315.45,713.62) scale(0.92,1.12)" text-anchor="end" font-size="7.8">80</text>
<text x="427.5" y="697" font-size="9.1" textLength="50" lengthAdjust="spacingAndGlyphs">SVR Model</text>
<text x="414.5" y="868" font-size="7.3" textLength="78" lengthAdjust="spacingAndGlyphs">360 hours / 15 days</text>
<text transform="translate(301.34,806.25) rotate(-90)" x="0" y="0" font-size="7.2" textLength="61.75" lengthAdjust="spacingAndGlyphs">Solar Power (kWh)</text>
<text transform="translate(639,866.2) scale(0.92,1.12)" text-anchor="middle" font-size="8.0">0</text>
<text transform="translate(669.28,866.2) scale(0.92,1.12)" text-anchor="middle" font-size="8.0">50</text>
<text transform="translate(699.57,866.2) scale(0.92,1.12)" text-anchor="middle" font-size="8.0">100</text>
<text transform="translate(729.86,866.2) scale(0.92,1.12)" text-anchor="middle" font-size="8.0">150</text>
<text transform="translate(760.14,866.2) scale(0.92,1.12)" text-anchor="middle" font-size="8.0">200</text>
<text transform="translate(790.42,866.2) scale(0.92,1.12)" text-anchor="middle" font-size="8.0">250</text>
<text transform="translate(820.71,866.2) scale(0.92,1.12)" text-anchor="middle" font-size="8.0">300</text>
<text transform="translate(851,866.2) scale(0.92,1.12)" text-anchor="middle" font-size="8.0">350</text>
<text transform="translate(622.2,851.98) scale(0.92,1.12)" text-anchor="end" font-size="8.0">0</text>
<text transform="translate(622.2,817.79) scale(0.92,1.12)" text-anchor="end" font-size="8.0">20</text>
<text transform="translate(622.2,783.6) scale(0.92,1.12)" text-anchor="end" font-size="8.0">40</text>
<text transform="translate(622.2,749.41) scale(0.92,1.12)" text-anchor="end" font-size="8.0">60</text>
<text transform="translate(622.2,715.22) scale(0.92,1.12)" text-anchor="end" font-size="8.0">80</text>
<text x="695" y="698.2" font-size="8.9" textLength="105" lengthAdjust="spacingAndGlyphs">LSTM - Univariate Model</text>
<text x="713.75" y="877" font-size="7.7" textLength="68.75" lengthAdjust="spacingAndGlyphs">120 Hours / 5 Days</text>
<text transform="translate(609.09,810) rotate(-90)" x="0" y="0" font-size="7.2" textLength="62.5" lengthAdjust="spacingAndGlyphs">Solar Power(KWh)</text>
<text x="359.1" y="221.1" class="cap" font-size="16.4" textLength="225.9" lengthAdjust="spacingAndGlyphs">(Next 1 day-ahead prediction)</text>
<text x="350.8" y="439.9" class="cap" font-size="16.4" textLength="232.7" lengthAdjust="spacingAndGlyphs">(Next 3 days-ahead prediction)</text>
<text x="356.6" y="658.1" class="cap" font-size="16.4" textLength="232.15" lengthAdjust="spacingAndGlyphs">(Next 5 days-ahead prediction)</text>
<text x="368.3" y="898.1" class="cap" font-size="16.4" textLength="188.7" lengthAdjust="spacingAndGlyphs">(Next 15 days prediction)</text>
</g>
</svg>
</body></html>
